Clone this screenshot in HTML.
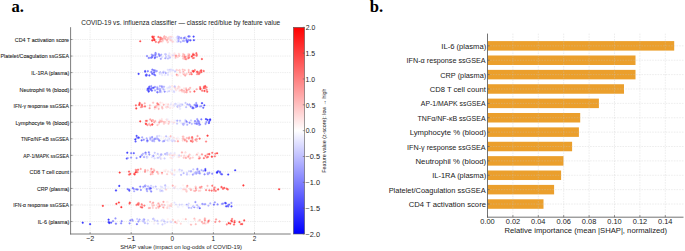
<!DOCTYPE html>
<html><head><meta charset="utf-8"><style>
html,body{margin:0;padding:0;background:#fff;}
svg{display:block;font-family:"Liberation Sans",sans-serif;}
</style></head><body>
<svg width="685" height="251" viewBox="0 0 685 251">
<rect width="685" height="251" fill="#fff"/>
<line x1="90.10" y1="27.20" x2="90.10" y2="234.00" stroke="#e0e0e0" stroke-width="0.6" stroke-dasharray="1.4 0.9"/>
<line x1="131.20" y1="27.20" x2="131.20" y2="234.00" stroke="#e0e0e0" stroke-width="0.6" stroke-dasharray="1.4 0.9"/>
<line x1="172.30" y1="27.20" x2="172.30" y2="234.00" stroke="#e0e0e0" stroke-width="0.6" stroke-dasharray="1.4 0.9"/>
<line x1="213.40" y1="27.20" x2="213.40" y2="234.00" stroke="#e0e0e0" stroke-width="0.6" stroke-dasharray="1.4 0.9"/>
<line x1="254.50" y1="27.20" x2="254.50" y2="234.00" stroke="#e0e0e0" stroke-width="0.6" stroke-dasharray="1.4 0.9"/>
<line x1="70.60" y1="39.50" x2="290.70" y2="39.50" stroke="#e0e0e0" stroke-width="0.6" stroke-dasharray="1.4 0.9"/>
<line x1="70.60" y1="56.05" x2="290.70" y2="56.05" stroke="#e0e0e0" stroke-width="0.6" stroke-dasharray="1.4 0.9"/>
<line x1="70.60" y1="72.60" x2="290.70" y2="72.60" stroke="#e0e0e0" stroke-width="0.6" stroke-dasharray="1.4 0.9"/>
<line x1="70.60" y1="89.15" x2="290.70" y2="89.15" stroke="#e0e0e0" stroke-width="0.6" stroke-dasharray="1.4 0.9"/>
<line x1="70.60" y1="105.70" x2="290.70" y2="105.70" stroke="#e0e0e0" stroke-width="0.6" stroke-dasharray="1.4 0.9"/>
<line x1="70.60" y1="122.25" x2="290.70" y2="122.25" stroke="#e0e0e0" stroke-width="0.6" stroke-dasharray="1.4 0.9"/>
<line x1="70.60" y1="138.80" x2="290.70" y2="138.80" stroke="#e0e0e0" stroke-width="0.6" stroke-dasharray="1.4 0.9"/>
<line x1="70.60" y1="155.35" x2="290.70" y2="155.35" stroke="#e0e0e0" stroke-width="0.6" stroke-dasharray="1.4 0.9"/>
<line x1="70.60" y1="171.90" x2="290.70" y2="171.90" stroke="#e0e0e0" stroke-width="0.6" stroke-dasharray="1.4 0.9"/>
<line x1="70.60" y1="188.45" x2="290.70" y2="188.45" stroke="#e0e0e0" stroke-width="0.6" stroke-dasharray="1.4 0.9"/>
<line x1="70.60" y1="205.00" x2="290.70" y2="205.00" stroke="#e0e0e0" stroke-width="0.6" stroke-dasharray="1.4 0.9"/>
<line x1="70.60" y1="221.55" x2="290.70" y2="221.55" stroke="#e0e0e0" stroke-width="0.6" stroke-dasharray="1.4 0.9"/>
<g fill-opacity="0.72" stroke-opacity="0.72" stroke-width="0.35">
<circle cx="187.07" cy="56.59" r="0.85" fill="rgb(255,174,174)" stroke="rgb(255,174,174)"/>
<circle cx="178.73" cy="71.52" r="0.85" fill="rgb(255,248,248)" stroke="rgb(255,248,248)"/>
<circle cx="178.87" cy="53.73" r="0.85" fill="rgb(255,203,203)" stroke="rgb(255,203,203)"/>
<circle cx="136.73" cy="171.99" r="0.85" fill="rgb(255,55,55)" stroke="rgb(255,55,55)"/>
<circle cx="153.20" cy="55.24" r="0.85" fill="rgb(138,138,255)" stroke="rgb(138,138,255)"/>
<circle cx="184.30" cy="54.81" r="0.85" fill="rgb(255,155,155)" stroke="rgb(255,155,155)"/>
<circle cx="154.74" cy="152.78" r="0.85" fill="rgb(178,178,255)" stroke="rgb(178,178,255)"/>
<circle cx="171.63" cy="70.40" r="0.85" fill="rgb(235,235,255)" stroke="rgb(235,235,255)"/>
<circle cx="157.27" cy="86.98" r="0.85" fill="rgb(174,174,255)" stroke="rgb(174,174,255)"/>
<circle cx="179.54" cy="140.41" r="0.85" fill="rgb(253,253,255)" stroke="rgb(253,253,255)"/>
<circle cx="173.55" cy="223.01" r="0.85" fill="rgb(235,235,255)" stroke="rgb(235,235,255)"/>
<circle cx="146.52" cy="189.83" r="0.85" fill="rgb(171,171,255)" stroke="rgb(171,171,255)"/>
<circle cx="152.31" cy="40.39" r="0.85" fill="rgb(255,0,0)" stroke="rgb(255,0,0)"/>
<circle cx="169.57" cy="107.28" r="0.85" fill="rgb(255,222,222)" stroke="rgb(255,222,222)"/>
<circle cx="170.36" cy="70.90" r="0.85" fill="rgb(217,217,255)" stroke="rgb(217,217,255)"/>
<circle cx="178.73" cy="170.34" r="0.85" fill="rgb(235,235,255)" stroke="rgb(235,235,255)"/>
<circle cx="208.40" cy="205.61" r="0.85" fill="rgb(159,159,255)" stroke="rgb(159,159,255)"/>
<circle cx="235.18" cy="170.26" r="0.85" fill="rgb(0,0,255)" stroke="rgb(0,0,255)"/>
<circle cx="179.95" cy="90.26" r="0.85" fill="rgb(255,174,174)" stroke="rgb(255,174,174)"/>
<circle cx="119.28" cy="185.88" r="0.85" fill="rgb(0,0,255)" stroke="rgb(0,0,255)"/>
<circle cx="162.13" cy="41.40" r="0.85" fill="rgb(255,144,144)" stroke="rgb(255,144,144)"/>
<circle cx="194.39" cy="218.58" r="0.85" fill="rgb(255,172,172)" stroke="rgb(255,172,172)"/>
<circle cx="175.18" cy="120.24" r="0.85" fill="rgb(243,243,255)" stroke="rgb(243,243,255)"/>
<circle cx="169.79" cy="57.65" r="0.85" fill="rgb(206,206,255)" stroke="rgb(206,206,255)"/>
<circle cx="199.96" cy="106.49" r="0.85" fill="rgb(140,140,255)" stroke="rgb(140,140,255)"/>
<circle cx="108.59" cy="219.67" r="0.85" fill="rgb(12,12,255)" stroke="rgb(12,12,255)"/>
<circle cx="169.21" cy="121.73" r="0.85" fill="rgb(255,133,133)" stroke="rgb(255,133,133)"/>
<circle cx="162.90" cy="120.06" r="0.85" fill="rgb(254,254,255)" stroke="rgb(254,254,255)"/>
<circle cx="200.33" cy="190.65" r="0.85" fill="rgb(255,206,206)" stroke="rgb(255,206,206)"/>
<circle cx="157.43" cy="220.83" r="0.85" fill="rgb(177,177,255)" stroke="rgb(177,177,255)"/>
<circle cx="185.05" cy="37.52" r="0.85" fill="rgb(139,139,255)" stroke="rgb(139,139,255)"/>
<circle cx="161.27" cy="136.53" r="0.85" fill="rgb(238,238,255)" stroke="rgb(238,238,255)"/>
<circle cx="185.24" cy="75.43" r="0.85" fill="rgb(255,124,124)" stroke="rgb(255,124,124)"/>
<circle cx="166.71" cy="40.47" r="0.85" fill="rgb(255,176,176)" stroke="rgb(255,176,176)"/>
<circle cx="108.84" cy="222.24" r="0.85" fill="rgb(42,42,255)" stroke="rgb(42,42,255)"/>
<circle cx="144.90" cy="223.01" r="0.85" fill="rgb(157,157,255)" stroke="rgb(157,157,255)"/>
<circle cx="188.89" cy="89.47" r="0.85" fill="rgb(255,140,140)" stroke="rgb(255,140,140)"/>
<circle cx="159.60" cy="140.49" r="0.85" fill="rgb(152,152,255)" stroke="rgb(152,152,255)"/>
<circle cx="132.80" cy="188.07" r="0.85" fill="rgb(68,68,255)" stroke="rgb(68,68,255)"/>
<circle cx="178.15" cy="103.06" r="0.85" fill="rgb(237,237,255)" stroke="rgb(237,237,255)"/>
<circle cx="161.25" cy="54.70" r="0.85" fill="rgb(152,152,255)" stroke="rgb(152,152,255)"/>
<circle cx="163.90" cy="137.33" r="0.85" fill="rgb(255,237,237)" stroke="rgb(255,237,237)"/>
<circle cx="193.24" cy="206.29" r="0.85" fill="rgb(147,147,255)" stroke="rgb(147,147,255)"/>
<circle cx="190.97" cy="120.47" r="0.85" fill="rgb(187,187,255)" stroke="rgb(187,187,255)"/>
<circle cx="188.48" cy="36.47" r="0.85" fill="rgb(57,57,255)" stroke="rgb(57,57,255)"/>
<circle cx="191.05" cy="72.65" r="0.85" fill="rgb(255,113,113)" stroke="rgb(255,113,113)"/>
<circle cx="207.71" cy="174.03" r="0.85" fill="rgb(129,129,255)" stroke="rgb(129,129,255)"/>
<circle cx="230.28" cy="223.55" r="0.85" fill="rgb(255,34,34)" stroke="rgb(255,34,34)"/>
<circle cx="152.64" cy="37.13" r="0.85" fill="rgb(255,0,0)" stroke="rgb(255,0,0)"/>
<circle cx="184.28" cy="155.63" r="0.85" fill="rgb(255,199,199)" stroke="rgb(255,199,199)"/>
<circle cx="174.59" cy="53.76" r="0.85" fill="rgb(255,241,241)" stroke="rgb(255,241,241)"/>
<circle cx="127.29" cy="152.71" r="0.85" fill="rgb(15,15,255)" stroke="rgb(15,15,255)"/>
<circle cx="206.36" cy="121.98" r="0.85" fill="rgb(104,104,255)" stroke="rgb(104,104,255)"/>
<circle cx="182.79" cy="56.34" r="0.85" fill="rgb(255,148,148)" stroke="rgb(255,148,148)"/>
<circle cx="158.55" cy="206.80" r="0.85" fill="rgb(255,159,159)" stroke="rgb(255,159,159)"/>
<circle cx="194.81" cy="123.33" r="0.85" fill="rgb(137,137,255)" stroke="rgb(137,137,255)"/>
<circle cx="184.77" cy="140.32" r="0.85" fill="rgb(255,142,142)" stroke="rgb(255,142,142)"/>
<circle cx="164.14" cy="107.74" r="0.85" fill="rgb(255,254,254)" stroke="rgb(255,254,254)"/>
<circle cx="169.51" cy="106.94" r="0.85" fill="rgb(204,204,255)" stroke="rgb(204,204,255)"/>
<circle cx="173.55" cy="38.71" r="0.85" fill="rgb(255,253,253)" stroke="rgb(255,253,253)"/>
<circle cx="214.17" cy="189.68" r="0.85" fill="rgb(255,62,62)" stroke="rgb(255,62,62)"/>
<circle cx="183.86" cy="138.37" r="0.85" fill="rgb(255,222,222)" stroke="rgb(255,222,222)"/>
<circle cx="198.89" cy="121.51" r="0.85" fill="rgb(111,111,255)" stroke="rgb(111,111,255)"/>
<circle cx="174.64" cy="170.12" r="0.85" fill="rgb(255,210,210)" stroke="rgb(255,210,210)"/>
<circle cx="147.44" cy="89.98" r="0.85" fill="rgb(62,62,255)" stroke="rgb(62,62,255)"/>
<circle cx="188.68" cy="69.99" r="0.85" fill="rgb(255,160,160)" stroke="rgb(255,160,160)"/>
<circle cx="183.22" cy="72.00" r="0.85" fill="rgb(255,110,110)" stroke="rgb(255,110,110)"/>
<circle cx="146.57" cy="74.57" r="0.85" fill="rgb(86,86,255)" stroke="rgb(86,86,255)"/>
<circle cx="180.04" cy="108.80" r="0.85" fill="rgb(221,221,255)" stroke="rgb(221,221,255)"/>
<circle cx="153.05" cy="218.97" r="0.85" fill="rgb(179,179,255)" stroke="rgb(179,179,255)"/>
<circle cx="176.80" cy="223.19" r="0.85" fill="rgb(255,207,207)" stroke="rgb(255,207,207)"/>
<circle cx="193.96" cy="54.72" r="0.85" fill="rgb(255,66,66)" stroke="rgb(255,66,66)"/>
<circle cx="181.09" cy="174.85" r="0.85" fill="rgb(163,163,255)" stroke="rgb(163,163,255)"/>
<circle cx="168.36" cy="137.26" r="0.85" fill="rgb(233,233,255)" stroke="rgb(233,233,255)"/>
<circle cx="137.61" cy="189.48" r="0.85" fill="rgb(86,86,255)" stroke="rgb(86,86,255)"/>
<circle cx="174.51" cy="174.75" r="0.85" fill="rgb(223,223,255)" stroke="rgb(223,223,255)"/>
<circle cx="138.39" cy="137.50" r="0.85" fill="rgb(48,48,255)" stroke="rgb(48,48,255)"/>
<circle cx="188.18" cy="156.61" r="0.85" fill="rgb(255,107,107)" stroke="rgb(255,107,107)"/>
<circle cx="190.90" cy="189.79" r="0.85" fill="rgb(255,135,135)" stroke="rgb(255,135,135)"/>
<circle cx="232.07" cy="218.94" r="0.85" fill="rgb(255,78,78)" stroke="rgb(255,78,78)"/>
<circle cx="115.46" cy="218.39" r="0.85" fill="rgb(117,117,255)" stroke="rgb(117,117,255)"/>
<circle cx="204.53" cy="174.33" r="0.85" fill="rgb(106,106,255)" stroke="rgb(106,106,255)"/>
<circle cx="141.75" cy="105.90" r="0.85" fill="rgb(255,104,104)" stroke="rgb(255,104,104)"/>
<circle cx="111.16" cy="222.54" r="0.85" fill="rgb(45,45,255)" stroke="rgb(45,45,255)"/>
<circle cx="163.87" cy="207.63" r="0.85" fill="rgb(255,188,188)" stroke="rgb(255,188,188)"/>
<circle cx="164.52" cy="158.46" r="0.85" fill="rgb(192,192,255)" stroke="rgb(192,192,255)"/>
<circle cx="139.67" cy="102.89" r="0.85" fill="rgb(255,64,64)" stroke="rgb(255,64,64)"/>
<circle cx="177.93" cy="41.40" r="0.85" fill="rgb(193,193,255)" stroke="rgb(193,193,255)"/>
<circle cx="172.98" cy="124.24" r="0.85" fill="rgb(255,244,244)" stroke="rgb(255,244,244)"/>
<circle cx="140.24" cy="41.27" r="0.85" fill="rgb(255,26,26)" stroke="rgb(255,26,26)"/>
<circle cx="190.47" cy="40.31" r="0.85" fill="rgb(42,42,255)" stroke="rgb(42,42,255)"/>
<circle cx="188.30" cy="220.87" r="0.85" fill="rgb(248,248,255)" stroke="rgb(248,248,255)"/>
<circle cx="164.07" cy="86.83" r="0.85" fill="rgb(232,232,255)" stroke="rgb(232,232,255)"/>
<circle cx="169.05" cy="87.59" r="0.85" fill="rgb(206,206,255)" stroke="rgb(206,206,255)"/>
<circle cx="205.46" cy="155.84" r="0.85" fill="rgb(255,72,72)" stroke="rgb(255,72,72)"/>
<circle cx="179.58" cy="103.91" r="0.85" fill="rgb(221,221,255)" stroke="rgb(221,221,255)"/>
<circle cx="163.45" cy="201.87" r="0.85" fill="rgb(255,135,135)" stroke="rgb(255,135,135)"/>
<circle cx="167.37" cy="87.90" r="0.85" fill="rgb(228,228,255)" stroke="rgb(228,228,255)"/>
<circle cx="205.25" cy="86.14" r="0.85" fill="rgb(255,32,32)" stroke="rgb(255,32,32)"/>
<circle cx="168.51" cy="187.29" r="0.85" fill="rgb(241,241,255)" stroke="rgb(241,241,255)"/>
<circle cx="167.26" cy="120.34" r="0.85" fill="rgb(255,214,214)" stroke="rgb(255,214,214)"/>
<circle cx="159.68" cy="206.12" r="0.85" fill="rgb(255,94,94)" stroke="rgb(255,94,94)"/>
<circle cx="186.68" cy="204.81" r="0.85" fill="rgb(136,136,255)" stroke="rgb(136,136,255)"/>
<circle cx="179.57" cy="106.49" r="0.85" fill="rgb(177,177,255)" stroke="rgb(177,177,255)"/>
<circle cx="138.40" cy="221.45" r="0.85" fill="rgb(130,130,255)" stroke="rgb(130,130,255)"/>
<circle cx="174.20" cy="155.39" r="0.85" fill="rgb(211,211,255)" stroke="rgb(211,211,255)"/>
<circle cx="155.58" cy="154.05" r="0.85" fill="rgb(241,241,255)" stroke="rgb(241,241,255)"/>
<circle cx="165.13" cy="153.94" r="0.85" fill="rgb(157,157,255)" stroke="rgb(157,157,255)"/>
<circle cx="162.23" cy="187.31" r="0.85" fill="rgb(219,219,255)" stroke="rgb(219,219,255)"/>
<circle cx="164.98" cy="75.11" r="0.85" fill="rgb(225,225,255)" stroke="rgb(225,225,255)"/>
<circle cx="163.94" cy="123.67" r="0.85" fill="rgb(255,186,186)" stroke="rgb(255,186,186)"/>
<circle cx="225.90" cy="203.32" r="0.85" fill="rgb(51,51,255)" stroke="rgb(51,51,255)"/>
<circle cx="203.31" cy="107.68" r="0.85" fill="rgb(72,72,255)" stroke="rgb(72,72,255)"/>
<circle cx="148.50" cy="88.93" r="0.85" fill="rgb(120,120,255)" stroke="rgb(120,120,255)"/>
<circle cx="149.93" cy="207.94" r="0.85" fill="rgb(255,153,153)" stroke="rgb(255,153,153)"/>
<circle cx="178.84" cy="36.95" r="0.85" fill="rgb(191,191,255)" stroke="rgb(191,191,255)"/>
<circle cx="170.81" cy="88.05" r="0.85" fill="rgb(241,241,255)" stroke="rgb(241,241,255)"/>
<circle cx="145.75" cy="123.62" r="0.85" fill="rgb(255,66,66)" stroke="rgb(255,66,66)"/>
<circle cx="197.39" cy="169.81" r="0.85" fill="rgb(172,172,255)" stroke="rgb(172,172,255)"/>
<circle cx="178.22" cy="107.56" r="0.85" fill="rgb(249,249,255)" stroke="rgb(249,249,255)"/>
<circle cx="178.32" cy="220.31" r="0.85" fill="rgb(255,234,234)" stroke="rgb(255,234,234)"/>
<circle cx="186.68" cy="156.01" r="0.85" fill="rgb(255,239,239)" stroke="rgb(255,239,239)"/>
<circle cx="162.83" cy="122.49" r="0.85" fill="rgb(255,254,254)" stroke="rgb(255,254,254)"/>
<circle cx="217.57" cy="204.38" r="0.85" fill="rgb(107,107,255)" stroke="rgb(107,107,255)"/>
<circle cx="147.68" cy="140.85" r="0.85" fill="rgb(146,146,255)" stroke="rgb(146,146,255)"/>
<circle cx="199.23" cy="156.60" r="0.85" fill="rgb(255,190,190)" stroke="rgb(255,190,190)"/>
<circle cx="164.36" cy="221.33" r="0.85" fill="rgb(176,176,255)" stroke="rgb(176,176,255)"/>
<circle cx="193.60" cy="36.55" r="0.85" fill="rgb(22,22,255)" stroke="rgb(22,22,255)"/>
<circle cx="164.56" cy="207.66" r="0.85" fill="rgb(255,251,251)" stroke="rgb(255,251,251)"/>
<circle cx="173.90" cy="174.69" r="0.85" fill="rgb(227,227,255)" stroke="rgb(227,227,255)"/>
<circle cx="176.06" cy="204.28" r="0.85" fill="rgb(202,202,255)" stroke="rgb(202,202,255)"/>
<circle cx="174.63" cy="40.51" r="0.85" fill="rgb(225,225,255)" stroke="rgb(225,225,255)"/>
<circle cx="194.44" cy="91.43" r="0.85" fill="rgb(255,44,44)" stroke="rgb(255,44,44)"/>
<circle cx="151.72" cy="54.66" r="0.85" fill="rgb(132,132,255)" stroke="rgb(132,132,255)"/>
<circle cx="173.78" cy="91.14" r="0.85" fill="rgb(214,214,255)" stroke="rgb(214,214,255)"/>
<circle cx="169.15" cy="56.93" r="0.85" fill="rgb(216,216,255)" stroke="rgb(216,216,255)"/>
<circle cx="186.86" cy="90.56" r="0.85" fill="rgb(255,125,125)" stroke="rgb(255,125,125)"/>
<circle cx="172.20" cy="41.96" r="0.85" fill="rgb(245,245,255)" stroke="rgb(245,245,255)"/>
<circle cx="145.04" cy="153.24" r="0.85" fill="rgb(200,200,255)" stroke="rgb(200,200,255)"/>
<circle cx="197.86" cy="73.01" r="0.85" fill="rgb(255,96,96)" stroke="rgb(255,96,96)"/>
<circle cx="178.11" cy="206.82" r="0.85" fill="rgb(227,227,255)" stroke="rgb(227,227,255)"/>
<circle cx="160.80" cy="58.76" r="0.85" fill="rgb(128,128,255)" stroke="rgb(128,128,255)"/>
<circle cx="154.08" cy="223.75" r="0.85" fill="rgb(234,234,255)" stroke="rgb(234,234,255)"/>
<circle cx="150.20" cy="139.42" r="0.85" fill="rgb(198,198,255)" stroke="rgb(198,198,255)"/>
<circle cx="224.32" cy="187.95" r="0.85" fill="rgb(255,43,43)" stroke="rgb(255,43,43)"/>
<circle cx="162.10" cy="107.07" r="0.85" fill="rgb(255,162,162)" stroke="rgb(255,162,162)"/>
<circle cx="201.51" cy="170.12" r="0.85" fill="rgb(149,149,255)" stroke="rgb(149,149,255)"/>
<circle cx="189.61" cy="36.43" r="0.85" fill="rgb(101,101,255)" stroke="rgb(101,101,255)"/>
<circle cx="140.66" cy="206.90" r="0.85" fill="rgb(255,102,102)" stroke="rgb(255,102,102)"/>
<circle cx="140.69" cy="168.90" r="0.85" fill="rgb(255,138,138)" stroke="rgb(255,138,138)"/>
<circle cx="192.34" cy="137.54" r="0.85" fill="rgb(255,170,170)" stroke="rgb(255,170,170)"/>
<circle cx="148.07" cy="220.19" r="0.85" fill="rgb(204,204,255)" stroke="rgb(204,204,255)"/>
<circle cx="182.99" cy="140.50" r="0.85" fill="rgb(255,246,246)" stroke="rgb(255,246,246)"/>
<circle cx="177.83" cy="221.08" r="0.85" fill="rgb(255,237,237)" stroke="rgb(255,237,237)"/>
<circle cx="201.24" cy="106.10" r="0.85" fill="rgb(123,123,255)" stroke="rgb(123,123,255)"/>
<circle cx="163.28" cy="207.15" r="0.85" fill="rgb(255,146,146)" stroke="rgb(255,146,146)"/>
<circle cx="222.94" cy="203.57" r="0.85" fill="rgb(98,98,255)" stroke="rgb(98,98,255)"/>
<circle cx="183.65" cy="74.23" r="0.85" fill="rgb(255,194,194)" stroke="rgb(255,194,194)"/>
<circle cx="168.21" cy="72.30" r="0.85" fill="rgb(209,209,255)" stroke="rgb(209,209,255)"/>
<circle cx="186.97" cy="174.41" r="0.85" fill="rgb(156,156,255)" stroke="rgb(156,156,255)"/>
<circle cx="167.05" cy="152.95" r="0.85" fill="rgb(173,173,255)" stroke="rgb(173,173,255)"/>
<circle cx="206.87" cy="157.47" r="0.85" fill="rgb(255,100,100)" stroke="rgb(255,100,100)"/>
<circle cx="149.13" cy="124.01" r="0.85" fill="rgb(255,148,148)" stroke="rgb(255,148,148)"/>
<circle cx="180.14" cy="72.42" r="0.85" fill="rgb(255,177,177)" stroke="rgb(255,177,177)"/>
<circle cx="154.13" cy="74.40" r="0.85" fill="rgb(56,56,255)" stroke="rgb(56,56,255)"/>
<circle cx="141.79" cy="155.26" r="0.85" fill="rgb(125,125,255)" stroke="rgb(125,125,255)"/>
<circle cx="168.02" cy="75.20" r="0.85" fill="rgb(230,230,255)" stroke="rgb(230,230,255)"/>
<circle cx="171.70" cy="40.51" r="0.85" fill="rgb(224,224,255)" stroke="rgb(224,224,255)"/>
<circle cx="159.91" cy="41.21" r="0.85" fill="rgb(255,82,82)" stroke="rgb(255,82,82)"/>
<circle cx="161.51" cy="220.49" r="0.85" fill="rgb(208,208,255)" stroke="rgb(208,208,255)"/>
<circle cx="158.40" cy="206.40" r="0.85" fill="rgb(255,163,163)" stroke="rgb(255,163,163)"/>
<circle cx="171.28" cy="103.40" r="0.85" fill="rgb(225,225,255)" stroke="rgb(225,225,255)"/>
<circle cx="185.14" cy="57.76" r="0.85" fill="rgb(255,192,192)" stroke="rgb(255,192,192)"/>
<circle cx="221.90" cy="203.89" r="0.85" fill="rgb(130,130,255)" stroke="rgb(130,130,255)"/>
<circle cx="191.29" cy="224.23" r="0.85" fill="rgb(255,227,227)" stroke="rgb(255,227,227)"/>
<circle cx="150.90" cy="171.11" r="0.85" fill="rgb(255,190,190)" stroke="rgb(255,190,190)"/>
<circle cx="151.84" cy="203.75" r="0.85" fill="rgb(255,201,201)" stroke="rgb(255,201,201)"/>
<circle cx="193.06" cy="53.72" r="0.85" fill="rgb(255,119,119)" stroke="rgb(255,119,119)"/>
<circle cx="136.25" cy="108.40" r="0.85" fill="rgb(255,16,16)" stroke="rgb(255,16,16)"/>
<circle cx="175.34" cy="155.04" r="0.85" fill="rgb(255,252,252)" stroke="rgb(255,252,252)"/>
<circle cx="171.42" cy="36.80" r="0.85" fill="rgb(255,222,222)" stroke="rgb(255,222,222)"/>
<circle cx="196.59" cy="139.24" r="0.85" fill="rgb(255,138,138)" stroke="rgb(255,138,138)"/>
<circle cx="126.79" cy="158.52" r="0.85" fill="rgb(34,34,255)" stroke="rgb(34,34,255)"/>
<circle cx="141.63" cy="140.35" r="0.85" fill="rgb(57,57,255)" stroke="rgb(57,57,255)"/>
<circle cx="196.83" cy="154.49" r="0.85" fill="rgb(255,157,157)" stroke="rgb(255,157,157)"/>
<circle cx="206.06" cy="190.00" r="0.85" fill="rgb(255,83,83)" stroke="rgb(255,83,83)"/>
<circle cx="228.67" cy="223.05" r="0.85" fill="rgb(255,0,0)" stroke="rgb(255,0,0)"/>
<circle cx="161.75" cy="75.75" r="0.85" fill="rgb(252,252,255)" stroke="rgb(252,252,255)"/>
<circle cx="195.97" cy="105.36" r="0.85" fill="rgb(46,46,255)" stroke="rgb(46,46,255)"/>
<circle cx="143.75" cy="139.71" r="0.85" fill="rgb(110,110,255)" stroke="rgb(110,110,255)"/>
<circle cx="141.72" cy="204.34" r="0.85" fill="rgb(255,85,85)" stroke="rgb(255,85,85)"/>
<circle cx="170.77" cy="172.63" r="0.85" fill="rgb(255,225,225)" stroke="rgb(255,225,225)"/>
<circle cx="159.62" cy="55.34" r="0.85" fill="rgb(142,142,255)" stroke="rgb(142,142,255)"/>
<circle cx="158.22" cy="88.95" r="0.85" fill="rgb(208,208,255)" stroke="rgb(208,208,255)"/>
<circle cx="157.16" cy="136.17" r="0.85" fill="rgb(196,196,255)" stroke="rgb(196,196,255)"/>
<circle cx="218.11" cy="171.14" r="0.85" fill="rgb(59,59,255)" stroke="rgb(59,59,255)"/>
<circle cx="115.93" cy="223.64" r="0.85" fill="rgb(86,86,255)" stroke="rgb(86,86,255)"/>
<circle cx="182.83" cy="40.92" r="0.85" fill="rgb(156,156,255)" stroke="rgb(156,156,255)"/>
<circle cx="193.86" cy="190.64" r="0.85" fill="rgb(255,189,189)" stroke="rgb(255,189,189)"/>
<circle cx="182.96" cy="185.37" r="0.85" fill="rgb(255,239,239)" stroke="rgb(255,239,239)"/>
<circle cx="196.25" cy="103.04" r="0.85" fill="rgb(117,117,255)" stroke="rgb(117,117,255)"/>
<circle cx="192.86" cy="174.59" r="0.85" fill="rgb(126,126,255)" stroke="rgb(126,126,255)"/>
<circle cx="174.95" cy="141.23" r="0.85" fill="rgb(255,185,185)" stroke="rgb(255,185,185)"/>
<circle cx="156.75" cy="105.63" r="0.85" fill="rgb(255,157,157)" stroke="rgb(255,157,157)"/>
<circle cx="207.53" cy="119.87" r="0.85" fill="rgb(0,0,255)" stroke="rgb(0,0,255)"/>
<circle cx="160.24" cy="37.56" r="0.85" fill="rgb(255,48,48)" stroke="rgb(255,48,48)"/>
<circle cx="178.03" cy="155.58" r="0.85" fill="rgb(255,238,238)" stroke="rgb(255,238,238)"/>
<circle cx="170.27" cy="107.76" r="0.85" fill="rgb(255,218,218)" stroke="rgb(255,218,218)"/>
<circle cx="167.87" cy="106.83" r="0.85" fill="rgb(255,174,174)" stroke="rgb(255,174,174)"/>
<circle cx="156.84" cy="189.15" r="0.85" fill="rgb(204,204,255)" stroke="rgb(204,204,255)"/>
<circle cx="171.81" cy="55.98" r="0.85" fill="rgb(255,236,236)" stroke="rgb(255,236,236)"/>
<circle cx="195.04" cy="191.01" r="0.85" fill="rgb(255,159,159)" stroke="rgb(255,159,159)"/>
<circle cx="199.47" cy="72.37" r="0.85" fill="rgb(255,109,109)" stroke="rgb(255,109,109)"/>
<circle cx="139.03" cy="203.34" r="0.85" fill="rgb(255,148,148)" stroke="rgb(255,148,148)"/>
<circle cx="135.31" cy="139.35" r="0.85" fill="rgb(0,0,255)" stroke="rgb(0,0,255)"/>
<circle cx="195.77" cy="188.10" r="0.85" fill="rgb(255,107,107)" stroke="rgb(255,107,107)"/>
<circle cx="197.07" cy="104.97" r="0.85" fill="rgb(118,118,255)" stroke="rgb(118,118,255)"/>
<circle cx="172.87" cy="103.25" r="0.85" fill="rgb(255,244,244)" stroke="rgb(255,244,244)"/>
<circle cx="127.69" cy="189.13" r="0.85" fill="rgb(84,84,255)" stroke="rgb(84,84,255)"/>
<circle cx="161.39" cy="92.10" r="0.85" fill="rgb(204,204,255)" stroke="rgb(204,204,255)"/>
<circle cx="188.61" cy="55.54" r="0.85" fill="rgb(255,101,101)" stroke="rgb(255,101,101)"/>
<circle cx="171.01" cy="40.64" r="0.85" fill="rgb(255,230,230)" stroke="rgb(255,230,230)"/>
<circle cx="209.18" cy="154.03" r="0.85" fill="rgb(255,59,59)" stroke="rgb(255,59,59)"/>
<circle cx="162.27" cy="75.08" r="0.85" fill="rgb(224,224,255)" stroke="rgb(224,224,255)"/>
<circle cx="178.07" cy="220.60" r="0.85" fill="rgb(255,239,239)" stroke="rgb(255,239,239)"/>
<circle cx="171.93" cy="71.79" r="0.85" fill="rgb(255,248,248)" stroke="rgb(255,248,248)"/>
<circle cx="129.35" cy="190.59" r="0.85" fill="rgb(36,36,255)" stroke="rgb(36,36,255)"/>
<circle cx="179.66" cy="88.97" r="0.85" fill="rgb(255,235,235)" stroke="rgb(255,235,235)"/>
<circle cx="178.44" cy="55.56" r="0.85" fill="rgb(255,214,214)" stroke="rgb(255,214,214)"/>
<circle cx="148.78" cy="208.03" r="0.85" fill="rgb(255,160,160)" stroke="rgb(255,160,160)"/>
<circle cx="142.03" cy="105.03" r="0.85" fill="rgb(255,90,90)" stroke="rgb(255,90,90)"/>
<circle cx="182.63" cy="123.75" r="0.85" fill="rgb(169,169,255)" stroke="rgb(169,169,255)"/>
<circle cx="177.06" cy="123.58" r="0.85" fill="rgb(183,183,255)" stroke="rgb(183,183,255)"/>
<circle cx="187.84" cy="205.62" r="0.85" fill="rgb(199,199,255)" stroke="rgb(199,199,255)"/>
<circle cx="202.13" cy="90.63" r="0.85" fill="rgb(255,74,74)" stroke="rgb(255,74,74)"/>
<circle cx="178.70" cy="207.01" r="0.85" fill="rgb(248,248,255)" stroke="rgb(248,248,255)"/>
<circle cx="201.54" cy="186.76" r="0.85" fill="rgb(255,102,102)" stroke="rgb(255,102,102)"/>
<circle cx="168.42" cy="38.02" r="0.85" fill="rgb(255,194,194)" stroke="rgb(255,194,194)"/>
<circle cx="233.99" cy="224.52" r="0.85" fill="rgb(255,43,43)" stroke="rgb(255,43,43)"/>
<circle cx="208.91" cy="123.01" r="0.85" fill="rgb(19,19,255)" stroke="rgb(19,19,255)"/>
<circle cx="155.14" cy="71.39" r="0.85" fill="rgb(162,162,255)" stroke="rgb(162,162,255)"/>
<circle cx="146.17" cy="124.14" r="0.85" fill="rgb(255,51,51)" stroke="rgb(255,51,51)"/>
<circle cx="189.29" cy="172.00" r="0.85" fill="rgb(249,249,255)" stroke="rgb(249,249,255)"/>
<circle cx="185.40" cy="157.10" r="0.85" fill="rgb(255,232,232)" stroke="rgb(255,232,232)"/>
<circle cx="132.75" cy="220.69" r="0.85" fill="rgb(153,153,255)" stroke="rgb(153,153,255)"/>
<circle cx="140.21" cy="186.62" r="0.85" fill="rgb(97,97,255)" stroke="rgb(97,97,255)"/>
<circle cx="157.42" cy="87.85" r="0.85" fill="rgb(144,144,255)" stroke="rgb(144,144,255)"/>
<circle cx="150.45" cy="190.09" r="0.85" fill="rgb(176,176,255)" stroke="rgb(176,176,255)"/>
<circle cx="174.09" cy="42.01" r="0.85" fill="rgb(244,244,255)" stroke="rgb(244,244,255)"/>
<circle cx="172.06" cy="85.99" r="0.85" fill="rgb(255,218,218)" stroke="rgb(255,218,218)"/>
<circle cx="185.93" cy="121.46" r="0.85" fill="rgb(78,78,255)" stroke="rgb(78,78,255)"/>
<circle cx="134.14" cy="173.80" r="0.85" fill="rgb(255,80,80)" stroke="rgb(255,80,80)"/>
<circle cx="177.25" cy="120.63" r="0.85" fill="rgb(150,150,255)" stroke="rgb(150,150,255)"/>
<circle cx="170.11" cy="222.48" r="0.85" fill="rgb(255,239,239)" stroke="rgb(255,239,239)"/>
<circle cx="161.20" cy="121.17" r="0.85" fill="rgb(255,211,211)" stroke="rgb(255,211,211)"/>
<circle cx="177.56" cy="106.74" r="0.85" fill="rgb(185,185,255)" stroke="rgb(185,185,255)"/>
<circle cx="155.53" cy="53.07" r="0.85" fill="rgb(60,60,255)" stroke="rgb(60,60,255)"/>
<circle cx="168.55" cy="140.63" r="0.85" fill="rgb(207,207,255)" stroke="rgb(207,207,255)"/>
<circle cx="171.12" cy="222.07" r="0.85" fill="rgb(199,199,255)" stroke="rgb(199,199,255)"/>
<circle cx="240.89" cy="224.15" r="0.85" fill="rgb(255,71,71)" stroke="rgb(255,71,71)"/>
<circle cx="184.65" cy="57.22" r="0.85" fill="rgb(255,89,89)" stroke="rgb(255,89,89)"/>
<circle cx="184.73" cy="70.22" r="0.85" fill="rgb(255,179,179)" stroke="rgb(255,179,179)"/>
<circle cx="161.82" cy="190.84" r="0.85" fill="rgb(247,247,255)" stroke="rgb(247,247,255)"/>
<circle cx="182.94" cy="72.20" r="0.85" fill="rgb(255,190,190)" stroke="rgb(255,190,190)"/>
<circle cx="150.45" cy="138.07" r="0.85" fill="rgb(102,102,255)" stroke="rgb(102,102,255)"/>
<circle cx="204.72" cy="219.47" r="0.85" fill="rgb(255,169,169)" stroke="rgb(255,169,169)"/>
<circle cx="175.80" cy="91.48" r="0.85" fill="rgb(251,251,255)" stroke="rgb(251,251,255)"/>
<circle cx="148.94" cy="87.93" r="0.85" fill="rgb(87,87,255)" stroke="rgb(87,87,255)"/>
<circle cx="167.31" cy="202.05" r="0.85" fill="rgb(255,214,214)" stroke="rgb(255,214,214)"/>
<circle cx="189.58" cy="104.56" r="0.85" fill="rgb(117,117,255)" stroke="rgb(117,117,255)"/>
<circle cx="157.30" cy="103.28" r="0.85" fill="rgb(255,111,111)" stroke="rgb(255,111,111)"/>
<circle cx="197.26" cy="123.92" r="0.85" fill="rgb(119,119,255)" stroke="rgb(119,119,255)"/>
<circle cx="189.75" cy="74.23" r="0.85" fill="rgb(255,138,138)" stroke="rgb(255,138,138)"/>
<circle cx="226.19" cy="206.31" r="0.85" fill="rgb(23,23,255)" stroke="rgb(23,23,255)"/>
<circle cx="144.73" cy="103.31" r="0.85" fill="rgb(255,150,150)" stroke="rgb(255,150,150)"/>
<circle cx="180.76" cy="188.40" r="0.85" fill="rgb(233,233,255)" stroke="rgb(233,233,255)"/>
<circle cx="142.51" cy="106.71" r="0.85" fill="rgb(255,120,120)" stroke="rgb(255,120,120)"/>
<circle cx="175.46" cy="104.00" r="0.85" fill="rgb(126,126,255)" stroke="rgb(126,126,255)"/>
<circle cx="167.09" cy="174.20" r="0.85" fill="rgb(255,189,189)" stroke="rgb(255,189,189)"/>
<circle cx="167.27" cy="120.89" r="0.85" fill="rgb(255,233,233)" stroke="rgb(255,233,233)"/>
<circle cx="205.35" cy="169.11" r="0.85" fill="rgb(27,27,255)" stroke="rgb(27,27,255)"/>
<circle cx="177.81" cy="141.05" r="0.85" fill="rgb(255,197,197)" stroke="rgb(255,197,197)"/>
<circle cx="172.20" cy="173.93" r="0.85" fill="rgb(255,201,201)" stroke="rgb(255,201,201)"/>
<circle cx="158.69" cy="124.05" r="0.85" fill="rgb(255,220,220)" stroke="rgb(255,220,220)"/>
<circle cx="154.92" cy="123.25" r="0.85" fill="rgb(255,244,244)" stroke="rgb(255,244,244)"/>
<circle cx="223.03" cy="188.85" r="0.85" fill="rgb(255,61,61)" stroke="rgb(255,61,61)"/>
<circle cx="187.23" cy="124.65" r="0.85" fill="rgb(152,152,255)" stroke="rgb(152,152,255)"/>
<circle cx="198.74" cy="220.66" r="0.85" fill="rgb(255,215,215)" stroke="rgb(255,215,215)"/>
<circle cx="162.93" cy="141.39" r="0.85" fill="rgb(161,161,255)" stroke="rgb(161,161,255)"/>
<circle cx="185.44" cy="152.47" r="0.85" fill="rgb(255,196,196)" stroke="rgb(255,196,196)"/>
<circle cx="159.94" cy="89.18" r="0.85" fill="rgb(131,131,255)" stroke="rgb(131,131,255)"/>
<circle cx="164.87" cy="170.98" r="0.85" fill="rgb(255,210,210)" stroke="rgb(255,210,210)"/>
<circle cx="171.05" cy="89.46" r="0.85" fill="rgb(255,229,229)" stroke="rgb(255,229,229)"/>
<circle cx="160.82" cy="155.24" r="0.85" fill="rgb(191,191,255)" stroke="rgb(191,191,255)"/>
<circle cx="145.02" cy="171.72" r="0.85" fill="rgb(255,110,110)" stroke="rgb(255,110,110)"/>
<circle cx="186.03" cy="121.18" r="0.85" fill="rgb(139,139,255)" stroke="rgb(139,139,255)"/>
<circle cx="146.93" cy="75.28" r="0.85" fill="rgb(144,144,255)" stroke="rgb(144,144,255)"/>
<circle cx="169.31" cy="55.26" r="0.85" fill="rgb(219,219,255)" stroke="rgb(219,219,255)"/>
<circle cx="135.57" cy="172.34" r="0.85" fill="rgb(255,0,0)" stroke="rgb(255,0,0)"/>
<circle cx="149.60" cy="187.63" r="0.85" fill="rgb(147,147,255)" stroke="rgb(147,147,255)"/>
<circle cx="156.98" cy="138.57" r="0.85" fill="rgb(117,117,255)" stroke="rgb(117,117,255)"/>
<circle cx="167.22" cy="71.22" r="0.85" fill="rgb(255,255,255)" stroke="rgb(255,255,255)"/>
<circle cx="186.01" cy="219.21" r="0.85" fill="rgb(255,242,242)" stroke="rgb(255,242,242)"/>
<circle cx="166.20" cy="58.40" r="0.85" fill="rgb(246,246,255)" stroke="rgb(246,246,255)"/>
<circle cx="191.68" cy="74.27" r="0.85" fill="rgb(255,81,81)" stroke="rgb(255,81,81)"/>
<circle cx="166.07" cy="106.72" r="0.85" fill="rgb(255,192,192)" stroke="rgb(255,192,192)"/>
<circle cx="169.45" cy="69.83" r="0.85" fill="rgb(232,232,255)" stroke="rgb(232,232,255)"/>
<circle cx="181.61" cy="91.83" r="0.85" fill="rgb(255,236,236)" stroke="rgb(255,236,236)"/>
<circle cx="185.24" cy="37.36" r="0.85" fill="rgb(208,208,255)" stroke="rgb(208,208,255)"/>
<circle cx="196.52" cy="173.32" r="0.85" fill="rgb(134,134,255)" stroke="rgb(134,134,255)"/>
<circle cx="195.42" cy="202.07" r="0.85" fill="rgb(113,113,255)" stroke="rgb(113,113,255)"/>
<circle cx="171.28" cy="55.67" r="0.85" fill="rgb(255,240,240)" stroke="rgb(255,240,240)"/>
<circle cx="147.21" cy="141.46" r="0.85" fill="rgb(156,156,255)" stroke="rgb(156,156,255)"/>
<circle cx="229.06" cy="204.58" r="0.85" fill="rgb(47,47,255)" stroke="rgb(47,47,255)"/>
<circle cx="166.19" cy="58.15" r="0.85" fill="rgb(247,247,255)" stroke="rgb(247,247,255)"/>
<circle cx="161.90" cy="121.48" r="0.85" fill="rgb(255,168,168)" stroke="rgb(255,168,168)"/>
<circle cx="181.15" cy="155.83" r="0.85" fill="rgb(255,200,200)" stroke="rgb(255,200,200)"/>
<circle cx="164.25" cy="37.50" r="0.85" fill="rgb(255,193,193)" stroke="rgb(255,193,193)"/>
<circle cx="144.40" cy="205.61" r="0.85" fill="rgb(255,83,83)" stroke="rgb(255,83,83)"/>
<circle cx="154.24" cy="40.01" r="0.85" fill="rgb(255,11,11)" stroke="rgb(255,11,11)"/>
<circle cx="167.77" cy="42.35" r="0.85" fill="rgb(255,184,184)" stroke="rgb(255,184,184)"/>
<circle cx="199.86" cy="219.94" r="0.85" fill="rgb(255,180,180)" stroke="rgb(255,180,180)"/>
<circle cx="183.63" cy="157.69" r="0.85" fill="rgb(255,182,182)" stroke="rgb(255,182,182)"/>
<circle cx="90.10" cy="224.17" r="0.85" fill="rgb(0,0,255)" stroke="rgb(0,0,255)"/>
<circle cx="192.53" cy="141.47" r="0.85" fill="rgb(255,102,102)" stroke="rgb(255,102,102)"/>
<circle cx="152.71" cy="174.10" r="0.85" fill="rgb(255,185,185)" stroke="rgb(255,185,185)"/>
<circle cx="165.96" cy="169.86" r="0.85" fill="rgb(255,233,233)" stroke="rgb(255,233,233)"/>
<circle cx="166.68" cy="107.61" r="0.85" fill="rgb(255,219,219)" stroke="rgb(255,219,219)"/>
<circle cx="160.36" cy="191.08" r="0.85" fill="rgb(203,203,255)" stroke="rgb(203,203,255)"/>
<circle cx="178.61" cy="103.36" r="0.85" fill="rgb(251,251,255)" stroke="rgb(251,251,255)"/>
<circle cx="226.79" cy="224.40" r="0.85" fill="rgb(255,95,95)" stroke="rgb(255,95,95)"/>
<circle cx="149.00" cy="88.69" r="0.85" fill="rgb(87,87,255)" stroke="rgb(87,87,255)"/>
<circle cx="158.38" cy="36.92" r="0.85" fill="rgb(255,77,77)" stroke="rgb(255,77,77)"/>
<circle cx="157.38" cy="92.09" r="0.85" fill="rgb(103,103,255)" stroke="rgb(103,103,255)"/>
<circle cx="186.32" cy="140.43" r="0.85" fill="rgb(255,194,194)" stroke="rgb(255,194,194)"/>
<circle cx="197.52" cy="136.02" r="0.85" fill="rgb(255,118,118)" stroke="rgb(255,118,118)"/>
<circle cx="150.21" cy="119.44" r="0.85" fill="rgb(255,135,135)" stroke="rgb(255,135,135)"/>
<circle cx="165.43" cy="122.33" r="0.85" fill="rgb(255,175,175)" stroke="rgb(255,175,175)"/>
<circle cx="186.40" cy="38.74" r="0.85" fill="rgb(145,145,255)" stroke="rgb(145,145,255)"/>
<circle cx="140.86" cy="189.90" r="0.85" fill="rgb(105,105,255)" stroke="rgb(105,105,255)"/>
<circle cx="172.73" cy="123.53" r="0.85" fill="rgb(233,233,255)" stroke="rgb(233,233,255)"/>
<circle cx="173.23" cy="55.71" r="0.85" fill="rgb(255,220,220)" stroke="rgb(255,220,220)"/>
<circle cx="209.34" cy="172.81" r="0.85" fill="rgb(121,121,255)" stroke="rgb(121,121,255)"/>
<circle cx="147.47" cy="125.11" r="0.85" fill="rgb(255,114,114)" stroke="rgb(255,114,114)"/>
<circle cx="178.97" cy="157.10" r="0.85" fill="rgb(255,209,209)" stroke="rgb(255,209,209)"/>
<circle cx="214.94" cy="187.41" r="0.85" fill="rgb(255,144,144)" stroke="rgb(255,144,144)"/>
<circle cx="192.61" cy="70.79" r="0.85" fill="rgb(255,80,80)" stroke="rgb(255,80,80)"/>
<circle cx="279.16" cy="189.23" r="0.85" fill="rgb(255,0,0)" stroke="rgb(255,0,0)"/>
<circle cx="152.27" cy="87.97" r="0.85" fill="rgb(112,112,255)" stroke="rgb(112,112,255)"/>
<circle cx="152.49" cy="172.30" r="0.85" fill="rgb(255,116,116)" stroke="rgb(255,116,116)"/>
<circle cx="164.69" cy="91.56" r="0.85" fill="rgb(110,110,255)" stroke="rgb(110,110,255)"/>
<circle cx="143.65" cy="221.48" r="0.85" fill="rgb(173,173,255)" stroke="rgb(173,173,255)"/>
<circle cx="184.29" cy="123.24" r="0.85" fill="rgb(183,183,255)" stroke="rgb(183,183,255)"/>
<circle cx="192.42" cy="141.76" r="0.85" fill="rgb(255,131,131)" stroke="rgb(255,131,131)"/>
<circle cx="181.99" cy="204.51" r="0.85" fill="rgb(207,207,255)" stroke="rgb(207,207,255)"/>
<circle cx="169.90" cy="57.39" r="0.85" fill="rgb(187,187,255)" stroke="rgb(187,187,255)"/>
<circle cx="182.95" cy="55.97" r="0.85" fill="rgb(255,189,189)" stroke="rgb(255,189,189)"/>
<circle cx="183.94" cy="90.75" r="0.85" fill="rgb(255,146,146)" stroke="rgb(255,146,146)"/>
<circle cx="139.25" cy="104.96" r="0.85" fill="rgb(255,34,34)" stroke="rgb(255,34,34)"/>
<circle cx="162.45" cy="206.15" r="0.85" fill="rgb(255,228,228)" stroke="rgb(255,228,228)"/>
<circle cx="170.51" cy="37.50" r="0.85" fill="rgb(223,223,255)" stroke="rgb(223,223,255)"/>
<circle cx="163.88" cy="121.92" r="0.85" fill="rgb(255,165,165)" stroke="rgb(255,165,165)"/>
<circle cx="180.68" cy="75.78" r="0.85" fill="rgb(255,240,240)" stroke="rgb(255,240,240)"/>
<circle cx="183.10" cy="138.78" r="0.85" fill="rgb(255,148,148)" stroke="rgb(255,148,148)"/>
<circle cx="135.88" cy="105.34" r="0.85" fill="rgb(255,60,60)" stroke="rgb(255,60,60)"/>
<circle cx="151.90" cy="90.55" r="0.85" fill="rgb(52,52,255)" stroke="rgb(52,52,255)"/>
<circle cx="188.38" cy="223.11" r="0.85" fill="rgb(248,248,255)" stroke="rgb(248,248,255)"/>
<circle cx="174.20" cy="88.82" r="0.85" fill="rgb(251,251,255)" stroke="rgb(251,251,255)"/>
<circle cx="188.67" cy="72.17" r="0.85" fill="rgb(255,155,155)" stroke="rgb(255,155,155)"/>
<circle cx="146.82" cy="188.79" r="0.85" fill="rgb(104,104,255)" stroke="rgb(104,104,255)"/>
<circle cx="203.75" cy="87.99" r="0.85" fill="rgb(255,17,17)" stroke="rgb(255,17,17)"/>
<circle cx="173.06" cy="104.82" r="0.85" fill="rgb(225,225,255)" stroke="rgb(225,225,255)"/>
<circle cx="188.98" cy="104.93" r="0.85" fill="rgb(177,177,255)" stroke="rgb(177,177,255)"/>
<circle cx="172.12" cy="75.42" r="0.85" fill="rgb(234,234,255)" stroke="rgb(234,234,255)"/>
<circle cx="136.58" cy="158.03" r="0.85" fill="rgb(116,116,255)" stroke="rgb(116,116,255)"/>
<circle cx="173.91" cy="86.89" r="0.85" fill="rgb(255,228,228)" stroke="rgb(255,228,228)"/>
<circle cx="175.54" cy="57.76" r="0.85" fill="rgb(255,170,170)" stroke="rgb(255,170,170)"/>
<circle cx="184.55" cy="56.56" r="0.85" fill="rgb(255,126,126)" stroke="rgb(255,126,126)"/>
<circle cx="197.19" cy="106.19" r="0.85" fill="rgb(47,47,255)" stroke="rgb(47,47,255)"/>
<circle cx="167.49" cy="140.37" r="0.85" fill="rgb(199,199,255)" stroke="rgb(199,199,255)"/>
<circle cx="201.37" cy="71.99" r="0.85" fill="rgb(255,29,29)" stroke="rgb(255,29,29)"/>
<circle cx="168.96" cy="37.14" r="0.85" fill="rgb(255,223,223)" stroke="rgb(255,223,223)"/>
<circle cx="160.02" cy="189.61" r="0.85" fill="rgb(212,212,255)" stroke="rgb(212,212,255)"/>
<circle cx="178.70" cy="36.92" r="0.85" fill="rgb(213,213,255)" stroke="rgb(213,213,255)"/>
<circle cx="191.05" cy="224.60" r="0.85" fill="rgb(255,165,165)" stroke="rgb(255,165,165)"/>
<circle cx="154.17" cy="141.34" r="0.85" fill="rgb(166,166,255)" stroke="rgb(166,166,255)"/>
<circle cx="136.90" cy="224.16" r="0.85" fill="rgb(88,88,255)" stroke="rgb(88,88,255)"/>
<circle cx="231.31" cy="220.57" r="0.85" fill="rgb(255,55,55)" stroke="rgb(255,55,55)"/>
<circle cx="188.92" cy="138.73" r="0.85" fill="rgb(255,198,198)" stroke="rgb(255,198,198)"/>
<circle cx="170.09" cy="39.75" r="0.85" fill="rgb(255,200,200)" stroke="rgb(255,200,200)"/>
<circle cx="198.04" cy="153.10" r="0.85" fill="rgb(255,225,225)" stroke="rgb(255,225,225)"/>
<circle cx="109.37" cy="222.94" r="0.85" fill="rgb(5,5,255)" stroke="rgb(5,5,255)"/>
<circle cx="201.89" cy="59.00" r="0.85" fill="rgb(255,13,13)" stroke="rgb(255,13,13)"/>
<circle cx="171.71" cy="71.18" r="0.85" fill="rgb(237,237,255)" stroke="rgb(237,237,255)"/>
<circle cx="166.18" cy="37.16" r="0.85" fill="rgb(255,179,179)" stroke="rgb(255,179,179)"/>
<circle cx="174.67" cy="54.85" r="0.85" fill="rgb(209,209,255)" stroke="rgb(209,209,255)"/>
<circle cx="190.22" cy="91.74" r="0.85" fill="rgb(255,140,140)" stroke="rgb(255,140,140)"/>
<circle cx="155.17" cy="57.19" r="0.85" fill="rgb(92,92,255)" stroke="rgb(92,92,255)"/>
<circle cx="182.14" cy="72.27" r="0.85" fill="rgb(242,242,255)" stroke="rgb(242,242,255)"/>
<circle cx="176.80" cy="75.39" r="0.85" fill="rgb(255,221,221)" stroke="rgb(255,221,221)"/>
<circle cx="183.23" cy="56.01" r="0.85" fill="rgb(255,192,192)" stroke="rgb(255,192,192)"/>
<circle cx="142.18" cy="137.31" r="0.85" fill="rgb(136,136,255)" stroke="rgb(136,136,255)"/>
<circle cx="184.45" cy="92.32" r="0.85" fill="rgb(255,185,185)" stroke="rgb(255,185,185)"/>
<circle cx="152.65" cy="55.88" r="0.85" fill="rgb(111,111,255)" stroke="rgb(111,111,255)"/>
<circle cx="185.00" cy="57.41" r="0.85" fill="rgb(255,152,152)" stroke="rgb(255,152,152)"/>
<circle cx="185.72" cy="219.19" r="0.85" fill="rgb(255,177,177)" stroke="rgb(255,177,177)"/>
<circle cx="172.96" cy="107.24" r="0.85" fill="rgb(255,212,212)" stroke="rgb(255,212,212)"/>
<circle cx="167.29" cy="189.86" r="0.85" fill="rgb(255,252,252)" stroke="rgb(255,252,252)"/>
<circle cx="130.28" cy="220.34" r="0.85" fill="rgb(109,109,255)" stroke="rgb(109,109,255)"/>
<circle cx="132.17" cy="219.62" r="0.85" fill="rgb(124,124,255)" stroke="rgb(124,124,255)"/>
<circle cx="167.70" cy="202.25" r="0.85" fill="rgb(255,242,242)" stroke="rgb(255,242,242)"/>
<circle cx="171.60" cy="156.65" r="0.85" fill="rgb(251,251,255)" stroke="rgb(251,251,255)"/>
<circle cx="150.76" cy="174.30" r="0.85" fill="rgb(255,140,140)" stroke="rgb(255,140,140)"/>
<circle cx="188.37" cy="58.14" r="0.85" fill="rgb(255,103,103)" stroke="rgb(255,103,103)"/>
<circle cx="199.60" cy="138.61" r="0.85" fill="rgb(255,64,64)" stroke="rgb(255,64,64)"/>
<circle cx="151.01" cy="185.77" r="0.85" fill="rgb(183,183,255)" stroke="rgb(183,183,255)"/>
<circle cx="196.67" cy="141.19" r="0.85" fill="rgb(255,178,178)" stroke="rgb(255,178,178)"/>
<circle cx="204.08" cy="204.30" r="0.85" fill="rgb(150,150,255)" stroke="rgb(150,150,255)"/>
<circle cx="173.61" cy="120.43" r="0.85" fill="rgb(255,243,243)" stroke="rgb(255,243,243)"/>
<circle cx="197.06" cy="74.23" r="0.85" fill="rgb(255,117,117)" stroke="rgb(255,117,117)"/>
<circle cx="166.47" cy="119.49" r="0.85" fill="rgb(255,213,213)" stroke="rgb(255,213,213)"/>
<circle cx="201.96" cy="154.36" r="0.85" fill="rgb(255,110,110)" stroke="rgb(255,110,110)"/>
<circle cx="172.44" cy="140.89" r="0.85" fill="rgb(173,173,255)" stroke="rgb(173,173,255)"/>
<circle cx="194.84" cy="70.06" r="0.85" fill="rgb(255,83,83)" stroke="rgb(255,83,83)"/>
<circle cx="186.12" cy="107.15" r="0.85" fill="rgb(171,171,255)" stroke="rgb(171,171,255)"/>
<circle cx="137.60" cy="172.22" r="0.85" fill="rgb(255,132,132)" stroke="rgb(255,132,132)"/>
<circle cx="189.87" cy="158.48" r="0.85" fill="rgb(255,161,161)" stroke="rgb(255,161,161)"/>
<circle cx="179.31" cy="105.67" r="0.85" fill="rgb(197,197,255)" stroke="rgb(197,197,255)"/>
<circle cx="160.83" cy="158.51" r="0.85" fill="rgb(160,160,255)" stroke="rgb(160,160,255)"/>
<circle cx="146.86" cy="156.75" r="0.85" fill="rgb(151,151,255)" stroke="rgb(151,151,255)"/>
<circle cx="148.00" cy="186.28" r="0.85" fill="rgb(157,157,255)" stroke="rgb(157,157,255)"/>
<circle cx="166.60" cy="55.11" r="0.85" fill="rgb(251,251,255)" stroke="rgb(251,251,255)"/>
<circle cx="146.93" cy="157.66" r="0.85" fill="rgb(198,198,255)" stroke="rgb(198,198,255)"/>
<circle cx="160.23" cy="90.13" r="0.85" fill="rgb(176,176,255)" stroke="rgb(176,176,255)"/>
<circle cx="164.37" cy="36.43" r="0.85" fill="rgb(255,138,138)" stroke="rgb(255,138,138)"/>
<circle cx="203.87" cy="158.17" r="0.85" fill="rgb(255,76,76)" stroke="rgb(255,76,76)"/>
<circle cx="164.34" cy="205.21" r="0.85" fill="rgb(255,166,166)" stroke="rgb(255,166,166)"/>
<circle cx="231.97" cy="221.46" r="0.85" fill="rgb(255,42,42)" stroke="rgb(255,42,42)"/>
<circle cx="149.84" cy="137.42" r="0.85" fill="rgb(214,214,255)" stroke="rgb(214,214,255)"/>
<circle cx="196.67" cy="106.58" r="0.85" fill="rgb(96,96,255)" stroke="rgb(96,96,255)"/>
<circle cx="215.31" cy="221.89" r="0.85" fill="rgb(255,112,112)" stroke="rgb(255,112,112)"/>
<circle cx="121.12" cy="223.29" r="0.85" fill="rgb(100,100,255)" stroke="rgb(100,100,255)"/>
<circle cx="174.07" cy="203.76" r="0.85" fill="rgb(249,249,255)" stroke="rgb(249,249,255)"/>
<circle cx="185.55" cy="189.60" r="0.85" fill="rgb(255,180,180)" stroke="rgb(255,180,180)"/>
<circle cx="142.44" cy="221.00" r="0.85" fill="rgb(194,194,255)" stroke="rgb(194,194,255)"/>
<circle cx="162.00" cy="190.63" r="0.85" fill="rgb(164,164,255)" stroke="rgb(164,164,255)"/>
<circle cx="155.18" cy="138.23" r="0.85" fill="rgb(200,200,255)" stroke="rgb(200,200,255)"/>
<circle cx="184.00" cy="88.30" r="0.85" fill="rgb(255,219,219)" stroke="rgb(255,219,219)"/>
<circle cx="173.69" cy="106.21" r="0.85" fill="rgb(205,205,255)" stroke="rgb(205,205,255)"/>
<circle cx="216.06" cy="219.42" r="0.85" fill="rgb(255,122,122)" stroke="rgb(255,122,122)"/>
<circle cx="171.75" cy="90.71" r="0.85" fill="rgb(234,234,255)" stroke="rgb(234,234,255)"/>
<circle cx="172.64" cy="37.33" r="0.85" fill="rgb(255,221,221)" stroke="rgb(255,221,221)"/>
<circle cx="159.42" cy="89.60" r="0.85" fill="rgb(166,166,255)" stroke="rgb(166,166,255)"/>
<circle cx="193.50" cy="71.47" r="0.85" fill="rgb(255,73,73)" stroke="rgb(255,73,73)"/>
<circle cx="210.11" cy="120.15" r="0.85" fill="rgb(71,71,255)" stroke="rgb(71,71,255)"/>
<circle cx="192.47" cy="140.16" r="0.85" fill="rgb(255,160,160)" stroke="rgb(255,160,160)"/>
<circle cx="137.67" cy="204.22" r="0.85" fill="rgb(255,81,81)" stroke="rgb(255,81,81)"/>
<circle cx="205.12" cy="87.88" r="0.85" fill="rgb(255,75,75)" stroke="rgb(255,75,75)"/>
<circle cx="198.91" cy="74.11" r="0.85" fill="rgb(255,78,78)" stroke="rgb(255,78,78)"/>
<circle cx="215.76" cy="190.81" r="0.85" fill="rgb(255,76,76)" stroke="rgb(255,76,76)"/>
<circle cx="127.78" cy="158.06" r="0.85" fill="rgb(133,133,255)" stroke="rgb(133,133,255)"/>
<circle cx="171.76" cy="121.65" r="0.85" fill="rgb(255,229,229)" stroke="rgb(255,229,229)"/>
<circle cx="169.48" cy="208.16" r="0.85" fill="rgb(231,231,255)" stroke="rgb(231,231,255)"/>
<circle cx="174.08" cy="58.36" r="0.85" fill="rgb(244,244,255)" stroke="rgb(244,244,255)"/>
<circle cx="202.95" cy="223.44" r="0.85" fill="rgb(255,175,175)" stroke="rgb(255,175,175)"/>
<circle cx="207.93" cy="156.84" r="0.85" fill="rgb(255,72,72)" stroke="rgb(255,72,72)"/>
<circle cx="191.32" cy="207.90" r="0.85" fill="rgb(175,175,255)" stroke="rgb(175,175,255)"/>
<circle cx="205.97" cy="119.09" r="0.85" fill="rgb(0,0,255)" stroke="rgb(0,0,255)"/>
<circle cx="168.52" cy="123.67" r="0.85" fill="rgb(255,184,184)" stroke="rgb(255,184,184)"/>
<circle cx="177.41" cy="56.97" r="0.85" fill="rgb(255,205,205)" stroke="rgb(255,205,205)"/>
<circle cx="140.24" cy="121.34" r="0.85" fill="rgb(255,9,9)" stroke="rgb(255,9,9)"/>
<circle cx="184.62" cy="41.18" r="0.85" fill="rgb(203,203,255)" stroke="rgb(203,203,255)"/>
<circle cx="172.71" cy="185.61" r="0.85" fill="rgb(255,154,154)" stroke="rgb(255,154,154)"/>
<circle cx="153.13" cy="102.64" r="0.85" fill="rgb(255,175,175)" stroke="rgb(255,175,175)"/>
<circle cx="152.24" cy="124.52" r="0.85" fill="rgb(255,50,50)" stroke="rgb(255,50,50)"/>
<circle cx="153.80" cy="205.34" r="0.85" fill="rgb(255,170,170)" stroke="rgb(255,170,170)"/>
<circle cx="136.60" cy="135.92" r="0.85" fill="rgb(25,25,255)" stroke="rgb(25,25,255)"/>
<circle cx="145.59" cy="152.56" r="0.85" fill="rgb(88,88,255)" stroke="rgb(88,88,255)"/>
<circle cx="156.53" cy="107.56" r="0.85" fill="rgb(255,174,174)" stroke="rgb(255,174,174)"/>
<circle cx="177.58" cy="106.39" r="0.85" fill="rgb(170,170,255)" stroke="rgb(170,170,255)"/>
<circle cx="150.51" cy="139.45" r="0.85" fill="rgb(170,170,255)" stroke="rgb(170,170,255)"/>
<circle cx="163.39" cy="72.44" r="0.85" fill="rgb(123,123,255)" stroke="rgb(123,123,255)"/>
<circle cx="239.46" cy="221.98" r="0.85" fill="rgb(255,0,0)" stroke="rgb(255,0,0)"/>
<circle cx="185.43" cy="188.22" r="0.85" fill="rgb(255,253,253)" stroke="rgb(255,253,253)"/>
<circle cx="160.83" cy="41.43" r="0.85" fill="rgb(255,155,155)" stroke="rgb(255,155,155)"/>
<circle cx="149.38" cy="75.40" r="0.85" fill="rgb(43,43,255)" stroke="rgb(43,43,255)"/>
<circle cx="156.76" cy="137.74" r="0.85" fill="rgb(198,198,255)" stroke="rgb(198,198,255)"/>
<circle cx="129.14" cy="174.57" r="0.85" fill="rgb(255,51,51)" stroke="rgb(255,51,51)"/>
<circle cx="193.96" cy="57.79" r="0.85" fill="rgb(255,109,109)" stroke="rgb(255,109,109)"/>
<circle cx="185.01" cy="58.92" r="0.85" fill="rgb(255,152,152)" stroke="rgb(255,152,152)"/>
<circle cx="170.03" cy="36.82" r="0.85" fill="rgb(255,203,203)" stroke="rgb(255,203,203)"/>
<circle cx="155.17" cy="75.28" r="0.85" fill="rgb(83,83,255)" stroke="rgb(83,83,255)"/>
<circle cx="138.04" cy="169.72" r="0.85" fill="rgb(255,60,60)" stroke="rgb(255,60,60)"/>
<circle cx="190.14" cy="87.80" r="0.85" fill="rgb(255,157,157)" stroke="rgb(255,157,157)"/>
<circle cx="208.32" cy="174.15" r="0.85" fill="rgb(178,178,255)" stroke="rgb(178,178,255)"/>
<circle cx="189.24" cy="137.33" r="0.85" fill="rgb(255,158,158)" stroke="rgb(255,158,158)"/>
<circle cx="200.77" cy="188.01" r="0.85" fill="rgb(255,176,176)" stroke="rgb(255,176,176)"/>
<circle cx="244.23" cy="220.41" r="0.85" fill="rgb(255,24,24)" stroke="rgb(255,24,24)"/>
<circle cx="185.52" cy="102.97" r="0.85" fill="rgb(181,181,255)" stroke="rgb(181,181,255)"/>
<circle cx="162.67" cy="219.64" r="0.85" fill="rgb(227,227,255)" stroke="rgb(227,227,255)"/>
<circle cx="158.63" cy="108.85" r="0.85" fill="rgb(255,159,159)" stroke="rgb(255,159,159)"/>
<circle cx="153.08" cy="139.15" r="0.85" fill="rgb(181,181,255)" stroke="rgb(181,181,255)"/>
<circle cx="154.44" cy="223.09" r="0.85" fill="rgb(255,239,239)" stroke="rgb(255,239,239)"/>
<circle cx="159.54" cy="55.90" r="0.85" fill="rgb(108,108,255)" stroke="rgb(108,108,255)"/>
<circle cx="189.63" cy="154.50" r="0.85" fill="rgb(255,187,187)" stroke="rgb(255,187,187)"/>
<circle cx="151.25" cy="168.77" r="0.85" fill="rgb(255,180,180)" stroke="rgb(255,180,180)"/>
<circle cx="159.12" cy="140.53" r="0.85" fill="rgb(127,127,255)" stroke="rgb(127,127,255)"/>
<circle cx="159.80" cy="73.64" r="0.85" fill="rgb(198,198,255)" stroke="rgb(198,198,255)"/>
<circle cx="188.69" cy="155.82" r="0.85" fill="rgb(255,176,176)" stroke="rgb(255,176,176)"/>
<circle cx="163.18" cy="89.25" r="0.85" fill="rgb(209,209,255)" stroke="rgb(209,209,255)"/>
<circle cx="152.70" cy="204.62" r="0.85" fill="rgb(255,212,212)" stroke="rgb(255,212,212)"/>
<circle cx="167.36" cy="222.13" r="0.85" fill="rgb(202,202,255)" stroke="rgb(202,202,255)"/>
<circle cx="196.14" cy="189.99" r="0.85" fill="rgb(255,129,129)" stroke="rgb(255,129,129)"/>
<circle cx="172.60" cy="224.40" r="0.85" fill="rgb(255,253,253)" stroke="rgb(255,253,253)"/>
<circle cx="199.28" cy="172.63" r="0.85" fill="rgb(176,176,255)" stroke="rgb(176,176,255)"/>
<circle cx="187.23" cy="42.10" r="0.85" fill="rgb(93,93,255)" stroke="rgb(93,93,255)"/>
<circle cx="183.53" cy="38.41" r="0.85" fill="rgb(172,172,255)" stroke="rgb(172,172,255)"/>
<circle cx="116.40" cy="203.82" r="0.85" fill="rgb(255,0,0)" stroke="rgb(255,0,0)"/>
<circle cx="169.33" cy="37.15" r="0.85" fill="rgb(255,223,223)" stroke="rgb(255,223,223)"/>
<circle cx="147.28" cy="140.42" r="0.85" fill="rgb(88,88,255)" stroke="rgb(88,88,255)"/>
<circle cx="184.83" cy="139.04" r="0.85" fill="rgb(255,213,213)" stroke="rgb(255,213,213)"/>
<circle cx="165.29" cy="58.26" r="0.85" fill="rgb(147,147,255)" stroke="rgb(147,147,255)"/>
<circle cx="159.96" cy="202.51" r="0.85" fill="rgb(255,239,239)" stroke="rgb(255,239,239)"/>
<circle cx="193.48" cy="108.21" r="0.85" fill="rgb(91,91,255)" stroke="rgb(91,91,255)"/>
<circle cx="154.01" cy="72.32" r="0.85" fill="rgb(55,55,255)" stroke="rgb(55,55,255)"/>
<circle cx="207.46" cy="185.87" r="0.85" fill="rgb(255,164,164)" stroke="rgb(255,164,164)"/>
<circle cx="177.62" cy="39.98" r="0.85" fill="rgb(211,211,255)" stroke="rgb(211,211,255)"/>
<circle cx="151.78" cy="120.79" r="0.85" fill="rgb(255,55,55)" stroke="rgb(255,55,55)"/>
<circle cx="182.77" cy="69.62" r="0.85" fill="rgb(255,176,176)" stroke="rgb(255,176,176)"/>
<circle cx="193.04" cy="54.88" r="0.85" fill="rgb(255,26,26)" stroke="rgb(255,26,26)"/>
<circle cx="196.02" cy="173.69" r="0.85" fill="rgb(172,172,255)" stroke="rgb(172,172,255)"/>
<circle cx="204.49" cy="90.94" r="0.85" fill="rgb(255,15,15)" stroke="rgb(255,15,15)"/>
<circle cx="174.29" cy="40.54" r="0.85" fill="rgb(255,253,253)" stroke="rgb(255,253,253)"/>
<circle cx="175.76" cy="41.63" r="0.85" fill="rgb(255,246,246)" stroke="rgb(255,246,246)"/>
<circle cx="204.88" cy="218.39" r="0.85" fill="rgb(255,159,159)" stroke="rgb(255,159,159)"/>
<circle cx="197.81" cy="120.93" r="0.85" fill="rgb(131,131,255)" stroke="rgb(131,131,255)"/>
<circle cx="212.22" cy="152.77" r="0.85" fill="rgb(255,64,64)" stroke="rgb(255,64,64)"/>
<circle cx="159.51" cy="88.61" r="0.85" fill="rgb(182,182,255)" stroke="rgb(182,182,255)"/>
<circle cx="167.05" cy="39.97" r="0.85" fill="rgb(255,232,232)" stroke="rgb(255,232,232)"/>
<circle cx="154.68" cy="108.81" r="0.85" fill="rgb(255,210,210)" stroke="rgb(255,210,210)"/>
<circle cx="165.93" cy="122.74" r="0.85" fill="rgb(255,229,229)" stroke="rgb(255,229,229)"/>
<circle cx="168.65" cy="55.65" r="0.85" fill="rgb(198,198,255)" stroke="rgb(198,198,255)"/>
<circle cx="175.68" cy="171.77" r="0.85" fill="rgb(247,247,255)" stroke="rgb(247,247,255)"/>
<circle cx="169.82" cy="54.50" r="0.85" fill="rgb(255,237,237)" stroke="rgb(255,237,237)"/>
<circle cx="171.92" cy="158.09" r="0.85" fill="rgb(255,215,215)" stroke="rgb(255,215,215)"/>
<circle cx="211.92" cy="156.65" r="0.85" fill="rgb(255,0,0)" stroke="rgb(255,0,0)"/>
<circle cx="153.66" cy="171.22" r="0.85" fill="rgb(255,210,210)" stroke="rgb(255,210,210)"/>
<circle cx="182.63" cy="206.43" r="0.85" fill="rgb(242,242,255)" stroke="rgb(242,242,255)"/>
<circle cx="118.87" cy="202.49" r="0.85" fill="rgb(255,0,0)" stroke="rgb(255,0,0)"/>
<circle cx="179.27" cy="55.71" r="0.85" fill="rgb(255,154,154)" stroke="rgb(255,154,154)"/>
<circle cx="172.95" cy="38.34" r="0.85" fill="rgb(239,239,255)" stroke="rgb(239,239,255)"/>
<circle cx="173.19" cy="153.70" r="0.85" fill="rgb(255,247,247)" stroke="rgb(255,247,247)"/>
<circle cx="178.00" cy="189.51" r="0.85" fill="rgb(243,243,255)" stroke="rgb(243,243,255)"/>
<circle cx="160.28" cy="72.34" r="0.85" fill="rgb(148,148,255)" stroke="rgb(148,148,255)"/>
<circle cx="158.61" cy="42.44" r="0.85" fill="rgb(255,72,72)" stroke="rgb(255,72,72)"/>
<circle cx="172.75" cy="104.87" r="0.85" fill="rgb(255,231,231)" stroke="rgb(255,231,231)"/>
<circle cx="204.09" cy="86.48" r="0.85" fill="rgb(255,60,60)" stroke="rgb(255,60,60)"/>
<circle cx="197.12" cy="205.09" r="0.85" fill="rgb(157,157,255)" stroke="rgb(157,157,255)"/>
<circle cx="163.89" cy="220.24" r="0.85" fill="rgb(218,218,255)" stroke="rgb(218,218,255)"/>
<circle cx="199.02" cy="123.15" r="0.85" fill="rgb(90,90,255)" stroke="rgb(90,90,255)"/>
<circle cx="183.87" cy="74.12" r="0.85" fill="rgb(255,152,152)" stroke="rgb(255,152,152)"/>
<circle cx="178.58" cy="86.55" r="0.85" fill="rgb(255,190,190)" stroke="rgb(255,190,190)"/>
<circle cx="204.51" cy="223.19" r="0.85" fill="rgb(255,145,145)" stroke="rgb(255,145,145)"/>
<circle cx="174.02" cy="122.36" r="0.85" fill="rgb(255,192,192)" stroke="rgb(255,192,192)"/>
<circle cx="163.76" cy="104.71" r="0.85" fill="rgb(255,161,161)" stroke="rgb(255,161,161)"/>
<circle cx="168.06" cy="171.44" r="0.85" fill="rgb(255,222,222)" stroke="rgb(255,222,222)"/>
<circle cx="139.56" cy="219.55" r="0.85" fill="rgb(143,143,255)" stroke="rgb(143,143,255)"/>
<circle cx="179.48" cy="70.29" r="0.85" fill="rgb(255,149,149)" stroke="rgb(255,149,149)"/>
<circle cx="186.87" cy="205.88" r="0.85" fill="rgb(244,244,255)" stroke="rgb(244,244,255)"/>
<circle cx="195.64" cy="106.96" r="0.85" fill="rgb(126,126,255)" stroke="rgb(126,126,255)"/>
<circle cx="158.85" cy="106.81" r="0.85" fill="rgb(255,231,231)" stroke="rgb(255,231,231)"/>
<circle cx="165.50" cy="105.69" r="0.85" fill="rgb(245,245,255)" stroke="rgb(245,245,255)"/>
<circle cx="162.42" cy="108.43" r="0.85" fill="rgb(255,180,180)" stroke="rgb(255,180,180)"/>
<circle cx="172.92" cy="38.31" r="0.85" fill="rgb(246,246,255)" stroke="rgb(246,246,255)"/>
<circle cx="186.44" cy="89.55" r="0.85" fill="rgb(255,134,134)" stroke="rgb(255,134,134)"/>
<circle cx="195.61" cy="186.61" r="0.85" fill="rgb(255,189,189)" stroke="rgb(255,189,189)"/>
<circle cx="162.07" cy="172.95" r="0.85" fill="rgb(255,74,74)" stroke="rgb(255,74,74)"/>
<circle cx="145.17" cy="71.80" r="0.85" fill="rgb(110,110,255)" stroke="rgb(110,110,255)"/>
<circle cx="154.77" cy="58.08" r="0.85" fill="rgb(76,76,255)" stroke="rgb(76,76,255)"/>
<circle cx="147.19" cy="191.22" r="0.85" fill="rgb(146,146,255)" stroke="rgb(146,146,255)"/>
<circle cx="186.73" cy="92.29" r="0.85" fill="rgb(255,165,165)" stroke="rgb(255,165,165)"/>
<circle cx="192.99" cy="58.15" r="0.85" fill="rgb(255,93,93)" stroke="rgb(255,93,93)"/>
<circle cx="195.74" cy="224.21" r="0.85" fill="rgb(255,178,178)" stroke="rgb(255,178,178)"/>
<circle cx="176.75" cy="74.60" r="0.85" fill="rgb(255,129,129)" stroke="rgb(255,129,129)"/>
<circle cx="189.22" cy="54.49" r="0.85" fill="rgb(255,131,131)" stroke="rgb(255,131,131)"/>
<circle cx="152.30" cy="140.86" r="0.85" fill="rgb(131,131,255)" stroke="rgb(131,131,255)"/>
<circle cx="207.93" cy="222.52" r="0.85" fill="rgb(255,148,148)" stroke="rgb(255,148,148)"/>
<circle cx="102.84" cy="205.83" r="0.85" fill="rgb(255,0,0)" stroke="rgb(255,0,0)"/>
<circle cx="172.22" cy="103.71" r="0.85" fill="rgb(255,250,250)" stroke="rgb(255,250,250)"/>
<circle cx="197.53" cy="71.68" r="0.85" fill="rgb(255,82,82)" stroke="rgb(255,82,82)"/>
<circle cx="185.37" cy="74.53" r="0.85" fill="rgb(255,198,198)" stroke="rgb(255,198,198)"/>
<circle cx="179.63" cy="169.58" r="0.85" fill="rgb(195,195,255)" stroke="rgb(195,195,255)"/>
<circle cx="173.13" cy="70.24" r="0.85" fill="rgb(205,205,255)" stroke="rgb(205,205,255)"/>
<circle cx="186.09" cy="88.33" r="0.85" fill="rgb(255,177,177)" stroke="rgb(255,177,177)"/>
<circle cx="174.68" cy="55.05" r="0.85" fill="rgb(255,220,220)" stroke="rgb(255,220,220)"/>
<circle cx="195.03" cy="121.12" r="0.85" fill="rgb(83,83,255)" stroke="rgb(83,83,255)"/>
<circle cx="168.13" cy="104.43" r="0.85" fill="rgb(255,196,196)" stroke="rgb(255,196,196)"/>
<circle cx="175.17" cy="87.83" r="0.85" fill="rgb(255,197,197)" stroke="rgb(255,197,197)"/>
<circle cx="158.59" cy="207.70" r="0.85" fill="rgb(255,179,179)" stroke="rgb(255,179,179)"/>
<circle cx="213.91" cy="204.55" r="0.85" fill="rgb(72,72,255)" stroke="rgb(72,72,255)"/>
<circle cx="155.28" cy="121.07" r="0.85" fill="rgb(255,152,152)" stroke="rgb(255,152,152)"/>
<circle cx="155.68" cy="186.52" r="0.85" fill="rgb(165,165,255)" stroke="rgb(165,165,255)"/>
<circle cx="181.80" cy="90.04" r="0.85" fill="rgb(255,111,111)" stroke="rgb(255,111,111)"/>
<circle cx="159.76" cy="156.97" r="0.85" fill="rgb(208,208,255)" stroke="rgb(208,208,255)"/>
<circle cx="161.86" cy="57.05" r="0.85" fill="rgb(207,207,255)" stroke="rgb(207,207,255)"/>
<circle cx="201.33" cy="119.30" r="0.85" fill="rgb(87,87,255)" stroke="rgb(87,87,255)"/>
<circle cx="176.77" cy="138.67" r="0.85" fill="rgb(255,217,217)" stroke="rgb(255,217,217)"/>
<circle cx="160.83" cy="186.58" r="0.85" fill="rgb(215,215,255)" stroke="rgb(215,215,255)"/>
<circle cx="151.43" cy="168.93" r="0.85" fill="rgb(255,146,146)" stroke="rgb(255,146,146)"/>
<circle cx="171.77" cy="169.95" r="0.85" fill="rgb(194,194,255)" stroke="rgb(194,194,255)"/>
<circle cx="145.04" cy="185.62" r="0.85" fill="rgb(158,158,255)" stroke="rgb(158,158,255)"/>
<circle cx="170.77" cy="136.16" r="0.85" fill="rgb(255,225,225)" stroke="rgb(255,225,225)"/>
<circle cx="199.94" cy="124.48" r="0.85" fill="rgb(73,73,255)" stroke="rgb(73,73,255)"/>
<circle cx="160.50" cy="73.47" r="0.85" fill="rgb(239,239,255)" stroke="rgb(239,239,255)"/>
<circle cx="108.59" cy="222.19" r="0.85" fill="rgb(70,70,255)" stroke="rgb(70,70,255)"/>
<circle cx="181.11" cy="37.88" r="0.85" fill="rgb(107,107,255)" stroke="rgb(107,107,255)"/>
<circle cx="220.11" cy="172.58" r="0.85" fill="rgb(67,67,255)" stroke="rgb(67,67,255)"/>
<circle cx="218.11" cy="189.45" r="0.85" fill="rgb(255,20,20)" stroke="rgb(255,20,20)"/>
<circle cx="165.20" cy="185.27" r="0.85" fill="rgb(164,164,255)" stroke="rgb(164,164,255)"/>
<circle cx="187.00" cy="172.82" r="0.85" fill="rgb(200,200,255)" stroke="rgb(200,200,255)"/>
<circle cx="147.75" cy="170.36" r="0.85" fill="rgb(255,187,187)" stroke="rgb(255,187,187)"/>
<circle cx="165.17" cy="38.73" r="0.85" fill="rgb(255,132,132)" stroke="rgb(255,132,132)"/>
<circle cx="180.89" cy="55.29" r="0.85" fill="rgb(254,254,255)" stroke="rgb(254,254,255)"/>
<circle cx="177.91" cy="141.34" r="0.85" fill="rgb(255,149,149)" stroke="rgb(255,149,149)"/>
<circle cx="167.29" cy="207.90" r="0.85" fill="rgb(255,199,199)" stroke="rgb(255,199,199)"/>
<circle cx="186.29" cy="40.08" r="0.85" fill="rgb(184,184,255)" stroke="rgb(184,184,255)"/>
<circle cx="164.23" cy="140.88" r="0.85" fill="rgb(121,121,255)" stroke="rgb(121,121,255)"/>
<circle cx="156.24" cy="208.02" r="0.85" fill="rgb(255,174,174)" stroke="rgb(255,174,174)"/>
<circle cx="171.81" cy="73.70" r="0.85" fill="rgb(255,245,245)" stroke="rgb(255,245,245)"/>
<circle cx="160.32" cy="102.61" r="0.85" fill="rgb(255,212,212)" stroke="rgb(255,212,212)"/>
<circle cx="139.55" cy="103.94" r="0.85" fill="rgb(255,63,63)" stroke="rgb(255,63,63)"/>
<circle cx="178.99" cy="39.22" r="0.85" fill="rgb(196,196,255)" stroke="rgb(196,196,255)"/>
<circle cx="175.18" cy="53.28" r="0.85" fill="rgb(248,248,255)" stroke="rgb(248,248,255)"/>
<circle cx="154.55" cy="39.91" r="0.85" fill="rgb(255,39,39)" stroke="rgb(255,39,39)"/>
<circle cx="129.58" cy="223.30" r="0.85" fill="rgb(113,113,255)" stroke="rgb(113,113,255)"/>
<circle cx="186.82" cy="187.19" r="0.85" fill="rgb(255,247,247)" stroke="rgb(255,247,247)"/>
<circle cx="154.27" cy="170.31" r="0.85" fill="rgb(255,153,153)" stroke="rgb(255,153,153)"/>
<circle cx="121.34" cy="207.16" r="0.85" fill="rgb(255,0,0)" stroke="rgb(255,0,0)"/>
<circle cx="169.50" cy="154.62" r="0.85" fill="rgb(255,202,202)" stroke="rgb(255,202,202)"/>
<circle cx="144.03" cy="157.09" r="0.85" fill="rgb(129,129,255)" stroke="rgb(129,129,255)"/>
<circle cx="161.73" cy="119.18" r="0.85" fill="rgb(255,213,213)" stroke="rgb(255,213,213)"/>
<circle cx="129.84" cy="202.51" r="0.85" fill="rgb(255,38,38)" stroke="rgb(255,38,38)"/>
<circle cx="174.27" cy="155.23" r="0.85" fill="rgb(255,233,233)" stroke="rgb(255,233,233)"/>
<circle cx="192.09" cy="137.17" r="0.85" fill="rgb(255,68,68)" stroke="rgb(255,68,68)"/>
<circle cx="187.32" cy="185.90" r="0.85" fill="rgb(255,117,117)" stroke="rgb(255,117,117)"/>
<circle cx="176.58" cy="37.67" r="0.85" fill="rgb(216,216,255)" stroke="rgb(216,216,255)"/>
<circle cx="193.89" cy="40.21" r="0.85" fill="rgb(28,28,255)" stroke="rgb(28,28,255)"/>
<circle cx="186.88" cy="186.92" r="0.85" fill="rgb(255,195,195)" stroke="rgb(255,195,195)"/>
<circle cx="199.17" cy="171.38" r="0.85" fill="rgb(128,128,255)" stroke="rgb(128,128,255)"/>
<circle cx="190.74" cy="171.32" r="0.85" fill="rgb(171,171,255)" stroke="rgb(171,171,255)"/>
<circle cx="231.48" cy="206.36" r="0.85" fill="rgb(32,32,255)" stroke="rgb(32,32,255)"/>
<circle cx="169.65" cy="205.69" r="0.85" fill="rgb(255,199,199)" stroke="rgb(255,199,199)"/>
<circle cx="187.42" cy="41.44" r="0.85" fill="rgb(61,61,255)" stroke="rgb(61,61,255)"/>
<circle cx="186.68" cy="40.20" r="0.85" fill="rgb(87,87,255)" stroke="rgb(87,87,255)"/>
<circle cx="193.94" cy="173.56" r="0.85" fill="rgb(187,187,255)" stroke="rgb(187,187,255)"/>
<circle cx="145.99" cy="74.98" r="0.85" fill="rgb(64,64,255)" stroke="rgb(64,64,255)"/>
<circle cx="167.83" cy="69.74" r="0.85" fill="rgb(211,211,255)" stroke="rgb(211,211,255)"/>
<circle cx="221.47" cy="187.00" r="0.85" fill="rgb(255,11,11)" stroke="rgb(255,11,11)"/>
<circle cx="165.69" cy="54.56" r="0.85" fill="rgb(154,154,255)" stroke="rgb(154,154,255)"/>
<circle cx="115.99" cy="190.47" r="0.85" fill="rgb(0,0,255)" stroke="rgb(0,0,255)"/>
<circle cx="154.96" cy="86.83" r="0.85" fill="rgb(115,115,255)" stroke="rgb(115,115,255)"/>
<circle cx="152.37" cy="36.55" r="0.85" fill="rgb(255,60,60)" stroke="rgb(255,60,60)"/>
<circle cx="169.57" cy="138.79" r="0.85" fill="rgb(197,197,255)" stroke="rgb(197,197,255)"/>
<circle cx="161.27" cy="158.15" r="0.85" fill="rgb(255,240,240)" stroke="rgb(255,240,240)"/>
<circle cx="183.42" cy="124.42" r="0.85" fill="rgb(164,164,255)" stroke="rgb(164,164,255)"/>
<circle cx="200.40" cy="89.13" r="0.85" fill="rgb(255,62,62)" stroke="rgb(255,62,62)"/>
<circle cx="152.14" cy="137.08" r="0.85" fill="rgb(107,107,255)" stroke="rgb(107,107,255)"/>
<circle cx="151.20" cy="191.49" r="0.85" fill="rgb(96,96,255)" stroke="rgb(96,96,255)"/>
<circle cx="170.78" cy="153.33" r="0.85" fill="rgb(220,220,255)" stroke="rgb(220,220,255)"/>
<circle cx="170.94" cy="37.02" r="0.85" fill="rgb(255,208,208)" stroke="rgb(255,208,208)"/>
<circle cx="192.47" cy="108.22" r="0.85" fill="rgb(98,98,255)" stroke="rgb(98,98,255)"/>
<circle cx="196.83" cy="71.87" r="0.85" fill="rgb(255,70,70)" stroke="rgb(255,70,70)"/>
<circle cx="167.68" cy="206.40" r="0.85" fill="rgb(255,218,218)" stroke="rgb(255,218,218)"/>
<circle cx="196.63" cy="89.24" r="0.85" fill="rgb(255,140,140)" stroke="rgb(255,140,140)"/>
<circle cx="161.98" cy="173.86" r="0.85" fill="rgb(255,212,212)" stroke="rgb(255,212,212)"/>
<circle cx="168.28" cy="38.70" r="0.85" fill="rgb(255,212,212)" stroke="rgb(255,212,212)"/>
<circle cx="177.75" cy="36.49" r="0.85" fill="rgb(177,177,255)" stroke="rgb(177,177,255)"/>
<circle cx="221.96" cy="174.34" r="0.85" fill="rgb(38,38,255)" stroke="rgb(38,38,255)"/>
<circle cx="174.19" cy="138.08" r="0.85" fill="rgb(245,245,255)" stroke="rgb(245,245,255)"/>
<circle cx="147.86" cy="71.20" r="0.85" fill="rgb(91,91,255)" stroke="rgb(91,91,255)"/>
<circle cx="178.64" cy="41.12" r="0.85" fill="rgb(140,140,255)" stroke="rgb(140,140,255)"/>
<circle cx="150.15" cy="57.78" r="0.85" fill="rgb(135,135,255)" stroke="rgb(135,135,255)"/>
<circle cx="174.72" cy="86.42" r="0.85" fill="rgb(183,183,255)" stroke="rgb(183,183,255)"/>
<circle cx="158.25" cy="203.42" r="0.85" fill="rgb(255,159,159)" stroke="rgb(255,159,159)"/>
<circle cx="190.03" cy="188.70" r="0.85" fill="rgb(255,194,194)" stroke="rgb(255,194,194)"/>
<circle cx="176.66" cy="69.79" r="0.85" fill="rgb(255,200,200)" stroke="rgb(255,200,200)"/>
<circle cx="157.99" cy="223.60" r="0.85" fill="rgb(204,204,255)" stroke="rgb(204,204,255)"/>
<circle cx="195.30" cy="172.33" r="0.85" fill="rgb(185,185,255)" stroke="rgb(185,185,255)"/>
<circle cx="157.38" cy="89.22" r="0.85" fill="rgb(129,129,255)" stroke="rgb(129,129,255)"/>
<circle cx="145.29" cy="185.69" r="0.85" fill="rgb(141,141,255)" stroke="rgb(141,141,255)"/>
<circle cx="174.43" cy="188.25" r="0.85" fill="rgb(255,211,211)" stroke="rgb(255,211,211)"/>
<circle cx="156.83" cy="157.92" r="0.85" fill="rgb(242,242,255)" stroke="rgb(242,242,255)"/>
<circle cx="163.48" cy="205.53" r="0.85" fill="rgb(233,233,255)" stroke="rgb(233,233,255)"/>
<circle cx="169.83" cy="86.71" r="0.85" fill="rgb(200,200,255)" stroke="rgb(200,200,255)"/>
<circle cx="148.63" cy="91.54" r="0.85" fill="rgb(44,44,255)" stroke="rgb(44,44,255)"/>
<circle cx="195.46" cy="139.78" r="0.85" fill="rgb(255,111,111)" stroke="rgb(255,111,111)"/>
<circle cx="162.74" cy="191.25" r="0.85" fill="rgb(219,219,255)" stroke="rgb(219,219,255)"/>
<circle cx="153.60" cy="38.47" r="0.85" fill="rgb(255,19,19)" stroke="rgb(255,19,19)"/>
<circle cx="133.80" cy="153.18" r="0.85" fill="rgb(58,58,255)" stroke="rgb(58,58,255)"/>
<circle cx="184.60" cy="188.95" r="0.85" fill="rgb(255,191,191)" stroke="rgb(255,191,191)"/>
<circle cx="178.46" cy="138.92" r="0.85" fill="rgb(255,238,238)" stroke="rgb(255,238,238)"/>
<circle cx="174.69" cy="153.06" r="0.85" fill="rgb(222,222,255)" stroke="rgb(222,222,255)"/>
<circle cx="191.62" cy="223.10" r="0.85" fill="rgb(255,254,254)" stroke="rgb(255,254,254)"/>
<circle cx="149.36" cy="154.47" r="0.85" fill="rgb(124,124,255)" stroke="rgb(124,124,255)"/>
<circle cx="159.82" cy="119.82" r="0.85" fill="rgb(255,230,230)" stroke="rgb(255,230,230)"/>
<circle cx="174.09" cy="187.78" r="0.85" fill="rgb(216,216,255)" stroke="rgb(216,216,255)"/>
<circle cx="172.76" cy="54.91" r="0.85" fill="rgb(200,200,255)" stroke="rgb(200,200,255)"/>
<circle cx="153.67" cy="140.35" r="0.85" fill="rgb(165,165,255)" stroke="rgb(165,165,255)"/>
<circle cx="151.81" cy="120.75" r="0.85" fill="rgb(255,135,135)" stroke="rgb(255,135,135)"/>
<circle cx="199.90" cy="187.39" r="0.85" fill="rgb(255,118,118)" stroke="rgb(255,118,118)"/>
<circle cx="138.38" cy="203.09" r="0.85" fill="rgb(255,117,117)" stroke="rgb(255,117,117)"/>
<circle cx="225.17" cy="202.87" r="0.85" fill="rgb(40,40,255)" stroke="rgb(40,40,255)"/>
<circle cx="138.51" cy="204.66" r="0.85" fill="rgb(255,85,85)" stroke="rgb(255,85,85)"/>
<circle cx="161.68" cy="154.41" r="0.85" fill="rgb(207,207,255)" stroke="rgb(207,207,255)"/>
<circle cx="179.22" cy="73.96" r="0.85" fill="rgb(255,241,241)" stroke="rgb(255,241,241)"/>
<circle cx="152.76" cy="171.95" r="0.85" fill="rgb(255,106,106)" stroke="rgb(255,106,106)"/>
<circle cx="179.19" cy="155.42" r="0.85" fill="rgb(203,203,255)" stroke="rgb(203,203,255)"/>
<circle cx="165.87" cy="54.12" r="0.85" fill="rgb(212,212,255)" stroke="rgb(212,212,255)"/>
<circle cx="157.11" cy="205.17" r="0.85" fill="rgb(255,207,207)" stroke="rgb(255,207,207)"/>
<circle cx="221.07" cy="174.03" r="0.85" fill="rgb(80,80,255)" stroke="rgb(80,80,255)"/>
<circle cx="184.31" cy="37.92" r="0.85" fill="rgb(99,99,255)" stroke="rgb(99,99,255)"/>
<circle cx="189.28" cy="57.24" r="0.85" fill="rgb(255,117,117)" stroke="rgb(255,117,117)"/>
<circle cx="146.66" cy="138.33" r="0.85" fill="rgb(147,147,255)" stroke="rgb(147,147,255)"/>
<circle cx="147.70" cy="88.66" r="0.85" fill="rgb(57,57,255)" stroke="rgb(57,57,255)"/>
<circle cx="163.38" cy="38.29" r="0.85" fill="rgb(255,168,168)" stroke="rgb(255,168,168)"/>
<circle cx="234.52" cy="222.36" r="0.85" fill="rgb(255,9,9)" stroke="rgb(255,9,9)"/>
<circle cx="231.41" cy="202.91" r="0.85" fill="rgb(131,131,255)" stroke="rgb(131,131,255)"/>
<circle cx="153.12" cy="202.68" r="0.85" fill="rgb(255,131,131)" stroke="rgb(255,131,131)"/>
<circle cx="188.70" cy="203.62" r="0.85" fill="rgb(207,207,255)" stroke="rgb(207,207,255)"/>
<circle cx="209.30" cy="220.28" r="0.85" fill="rgb(255,174,174)" stroke="rgb(255,174,174)"/>
<circle cx="181.96" cy="152.47" r="0.85" fill="rgb(255,150,150)" stroke="rgb(255,150,150)"/>
<circle cx="151.51" cy="57.54" r="0.85" fill="rgb(82,82,255)" stroke="rgb(82,82,255)"/>
<circle cx="163.84" cy="172.96" r="0.85" fill="rgb(254,254,255)" stroke="rgb(254,254,255)"/>
<circle cx="153.71" cy="169.47" r="0.85" fill="rgb(255,198,198)" stroke="rgb(255,198,198)"/>
<circle cx="155.51" cy="54.43" r="0.85" fill="rgb(100,100,255)" stroke="rgb(100,100,255)"/>
<circle cx="153.86" cy="157.91" r="0.85" fill="rgb(253,253,255)" stroke="rgb(253,253,255)"/>
<circle cx="155.16" cy="70.46" r="0.85" fill="rgb(141,141,255)" stroke="rgb(141,141,255)"/>
<circle cx="156.88" cy="108.08" r="0.85" fill="rgb(255,245,245)" stroke="rgb(255,245,245)"/>
<circle cx="222.88" cy="188.01" r="0.85" fill="rgb(255,95,95)" stroke="rgb(255,95,95)"/>
<circle cx="183.09" cy="73.16" r="0.85" fill="rgb(255,211,211)" stroke="rgb(255,211,211)"/>
<circle cx="199.97" cy="157.95" r="0.85" fill="rgb(255,139,139)" stroke="rgb(255,139,139)"/>
<circle cx="149.88" cy="105.47" r="0.85" fill="rgb(255,159,159)" stroke="rgb(255,159,159)"/>
<circle cx="145.49" cy="185.60" r="0.85" fill="rgb(197,197,255)" stroke="rgb(197,197,255)"/>
<circle cx="167.67" cy="119.28" r="0.85" fill="rgb(236,236,255)" stroke="rgb(236,236,255)"/>
<circle cx="151.03" cy="88.45" r="0.85" fill="rgb(90,90,255)" stroke="rgb(90,90,255)"/>
<circle cx="207.66" cy="173.22" r="0.85" fill="rgb(159,159,255)" stroke="rgb(159,159,255)"/>
<circle cx="172.50" cy="41.49" r="0.85" fill="rgb(255,233,233)" stroke="rgb(255,233,233)"/>
<circle cx="157.50" cy="92.30" r="0.85" fill="rgb(115,115,255)" stroke="rgb(115,115,255)"/>
<circle cx="150.46" cy="125.30" r="0.85" fill="rgb(255,116,116)" stroke="rgb(255,116,116)"/>
<circle cx="197.23" cy="119.13" r="0.85" fill="rgb(133,133,255)" stroke="rgb(133,133,255)"/>
<circle cx="196.73" cy="123.08" r="0.85" fill="rgb(167,167,255)" stroke="rgb(167,167,255)"/>
<circle cx="169.39" cy="53.25" r="0.85" fill="rgb(226,226,255)" stroke="rgb(226,226,255)"/>
<circle cx="199.01" cy="173.18" r="0.85" fill="rgb(173,173,255)" stroke="rgb(173,173,255)"/>
<circle cx="159.34" cy="104.83" r="0.85" fill="rgb(255,189,189)" stroke="rgb(255,189,189)"/>
<circle cx="172.91" cy="157.03" r="0.85" fill="rgb(233,233,255)" stroke="rgb(233,233,255)"/>
<circle cx="152.00" cy="57.10" r="0.85" fill="rgb(106,106,255)" stroke="rgb(106,106,255)"/>
<circle cx="227.61" cy="205.54" r="0.85" fill="rgb(103,103,255)" stroke="rgb(103,103,255)"/>
<circle cx="121.64" cy="221.22" r="0.85" fill="rgb(109,109,255)" stroke="rgb(109,109,255)"/>
<circle cx="179.86" cy="171.24" r="0.85" fill="rgb(235,235,255)" stroke="rgb(235,235,255)"/>
<circle cx="170.40" cy="157.59" r="0.85" fill="rgb(255,224,224)" stroke="rgb(255,224,224)"/>
<circle cx="170.15" cy="106.70" r="0.85" fill="rgb(255,254,254)" stroke="rgb(255,254,254)"/>
<circle cx="170.58" cy="136.42" r="0.85" fill="rgb(255,179,179)" stroke="rgb(255,179,179)"/>
<circle cx="162.09" cy="102.87" r="0.85" fill="rgb(255,231,231)" stroke="rgb(255,231,231)"/>
<circle cx="164.96" cy="71.79" r="0.85" fill="rgb(224,224,255)" stroke="rgb(224,224,255)"/>
<circle cx="175.50" cy="104.17" r="0.85" fill="rgb(237,237,255)" stroke="rgb(237,237,255)"/>
<circle cx="214.15" cy="187.88" r="0.85" fill="rgb(255,110,110)" stroke="rgb(255,110,110)"/>
<circle cx="170.52" cy="37.68" r="0.85" fill="rgb(255,206,206)" stroke="rgb(255,206,206)"/>
<circle cx="153.93" cy="36.62" r="0.85" fill="rgb(255,64,64)" stroke="rgb(255,64,64)"/>
<circle cx="194.67" cy="55.26" r="0.85" fill="rgb(255,128,128)" stroke="rgb(255,128,128)"/>
<circle cx="203.70" cy="71.02" r="0.85" fill="rgb(255,41,41)" stroke="rgb(255,41,41)"/>
<circle cx="180.52" cy="122.50" r="0.85" fill="rgb(233,233,255)" stroke="rgb(233,233,255)"/>
<circle cx="177.80" cy="75.45" r="0.85" fill="rgb(255,200,200)" stroke="rgb(255,200,200)"/>
<circle cx="156.21" cy="106.47" r="0.85" fill="rgb(255,209,209)" stroke="rgb(255,209,209)"/>
<circle cx="243.40" cy="185.39" r="0.85" fill="rgb(255,0,0)" stroke="rgb(255,0,0)"/>
<circle cx="228.20" cy="174.49" r="0.85" fill="rgb(0,0,255)" stroke="rgb(0,0,255)"/>
<circle cx="200.09" cy="87.07" r="0.85" fill="rgb(255,65,65)" stroke="rgb(255,65,65)"/>
<circle cx="205.73" cy="223.60" r="0.85" fill="rgb(255,210,210)" stroke="rgb(255,210,210)"/>
<circle cx="190.71" cy="106.45" r="0.85" fill="rgb(91,91,255)" stroke="rgb(91,91,255)"/>
<circle cx="187.40" cy="104.37" r="0.85" fill="rgb(148,148,255)" stroke="rgb(148,148,255)"/>
<circle cx="165.10" cy="223.42" r="0.85" fill="rgb(240,240,255)" stroke="rgb(240,240,255)"/>
<circle cx="174.19" cy="91.94" r="0.85" fill="rgb(206,206,255)" stroke="rgb(206,206,255)"/>
<circle cx="147.05" cy="120.76" r="0.85" fill="rgb(255,105,105)" stroke="rgb(255,105,105)"/>
<circle cx="188.87" cy="40.34" r="0.85" fill="rgb(90,90,255)" stroke="rgb(90,90,255)"/>
<circle cx="137.20" cy="218.97" r="0.85" fill="rgb(190,190,255)" stroke="rgb(190,190,255)"/>
<circle cx="167.95" cy="58.51" r="0.85" fill="rgb(166,166,255)" stroke="rgb(166,166,255)"/>
<circle cx="152.89" cy="120.29" r="0.85" fill="rgb(255,102,102)" stroke="rgb(255,102,102)"/>
<circle cx="173.07" cy="106.96" r="0.85" fill="rgb(255,253,253)" stroke="rgb(255,253,253)"/>
<circle cx="193.52" cy="71.39" r="0.85" fill="rgb(255,39,39)" stroke="rgb(255,39,39)"/>
<circle cx="197.07" cy="172.08" r="0.85" fill="rgb(157,157,255)" stroke="rgb(157,157,255)"/>
<circle cx="130.38" cy="173.87" r="0.85" fill="rgb(255,40,40)" stroke="rgb(255,40,40)"/>
<circle cx="157.89" cy="205.29" r="0.85" fill="rgb(255,239,239)" stroke="rgb(255,239,239)"/>
<circle cx="186.53" cy="190.40" r="0.85" fill="rgb(255,211,211)" stroke="rgb(255,211,211)"/>
<circle cx="166.10" cy="103.92" r="0.85" fill="rgb(255,236,236)" stroke="rgb(255,236,236)"/>
<circle cx="215.30" cy="153.70" r="0.85" fill="rgb(255,105,105)" stroke="rgb(255,105,105)"/>
<circle cx="151.87" cy="57.37" r="0.85" fill="rgb(119,119,255)" stroke="rgb(119,119,255)"/>
<circle cx="183.74" cy="73.26" r="0.85" fill="rgb(255,217,217)" stroke="rgb(255,217,217)"/>
<circle cx="167.50" cy="91.67" r="0.85" fill="rgb(216,216,255)" stroke="rgb(216,216,255)"/>
<circle cx="194.78" cy="219.84" r="0.85" fill="rgb(255,216,216)" stroke="rgb(255,216,216)"/>
<circle cx="186.79" cy="121.94" r="0.85" fill="rgb(117,117,255)" stroke="rgb(117,117,255)"/>
<circle cx="154.91" cy="138.98" r="0.85" fill="rgb(96,96,255)" stroke="rgb(96,96,255)"/>
<circle cx="197.99" cy="120.52" r="0.85" fill="rgb(139,139,255)" stroke="rgb(139,139,255)"/>
<circle cx="183.45" cy="124.79" r="0.85" fill="rgb(183,183,255)" stroke="rgb(183,183,255)"/>
<circle cx="176.81" cy="70.29" r="0.85" fill="rgb(255,209,209)" stroke="rgb(255,209,209)"/>
<circle cx="151.49" cy="172.58" r="0.85" fill="rgb(255,171,171)" stroke="rgb(255,171,171)"/>
<circle cx="191.23" cy="189.49" r="0.85" fill="rgb(255,188,188)" stroke="rgb(255,188,188)"/>
<circle cx="158.01" cy="157.76" r="0.85" fill="rgb(170,170,255)" stroke="rgb(170,170,255)"/>
<circle cx="172.92" cy="53.96" r="0.85" fill="rgb(255,248,248)" stroke="rgb(255,248,248)"/>
<circle cx="150.80" cy="188.29" r="0.85" fill="rgb(40,40,255)" stroke="rgb(40,40,255)"/>
<circle cx="134.67" cy="174.40" r="0.85" fill="rgb(255,40,40)" stroke="rgb(255,40,40)"/>
<circle cx="219.86" cy="171.54" r="0.85" fill="rgb(74,74,255)" stroke="rgb(74,74,255)"/>
<circle cx="199.74" cy="73.04" r="0.85" fill="rgb(255,103,103)" stroke="rgb(255,103,103)"/>
<circle cx="185.85" cy="190.55" r="0.85" fill="rgb(255,219,219)" stroke="rgb(255,219,219)"/>
<circle cx="188.57" cy="39.93" r="0.85" fill="rgb(147,147,255)" stroke="rgb(147,147,255)"/>
<circle cx="157.41" cy="125.04" r="0.85" fill="rgb(255,184,184)" stroke="rgb(255,184,184)"/>
<circle cx="182.24" cy="104.56" r="0.85" fill="rgb(174,174,255)" stroke="rgb(174,174,255)"/>
<circle cx="167.48" cy="122.45" r="0.85" fill="rgb(255,241,241)" stroke="rgb(255,241,241)"/>
<circle cx="165.98" cy="189.50" r="0.85" fill="rgb(255,192,192)" stroke="rgb(255,192,192)"/>
<circle cx="172.08" cy="137.17" r="0.85" fill="rgb(239,239,255)" stroke="rgb(239,239,255)"/>
<circle cx="82.70" cy="222.70" r="0.85" fill="rgb(0,0,255)" stroke="rgb(0,0,255)"/>
<circle cx="176.73" cy="185.83" r="0.85" fill="rgb(255,250,250)" stroke="rgb(255,250,250)"/>
<circle cx="165.33" cy="139.64" r="0.85" fill="rgb(220,220,255)" stroke="rgb(220,220,255)"/>
<circle cx="154.70" cy="220.40" r="0.85" fill="rgb(187,187,255)" stroke="rgb(187,187,255)"/>
<circle cx="158.10" cy="173.86" r="0.85" fill="rgb(255,243,243)" stroke="rgb(255,243,243)"/>
<circle cx="162.45" cy="224.44" r="0.85" fill="rgb(195,195,255)" stroke="rgb(195,195,255)"/>
<circle cx="136.24" cy="189.35" r="0.85" fill="rgb(94,94,255)" stroke="rgb(94,94,255)"/>
<circle cx="214.88" cy="156.37" r="0.85" fill="rgb(255,78,78)" stroke="rgb(255,78,78)"/>
<circle cx="158.43" cy="139.26" r="0.85" fill="rgb(140,140,255)" stroke="rgb(140,140,255)"/>
<circle cx="170.93" cy="105.08" r="0.85" fill="rgb(235,235,255)" stroke="rgb(235,235,255)"/>
<circle cx="169.55" cy="38.26" r="0.85" fill="rgb(255,221,221)" stroke="rgb(255,221,221)"/>
<circle cx="159.94" cy="86.05" r="0.85" fill="rgb(144,144,255)" stroke="rgb(144,144,255)"/>
<circle cx="199.15" cy="124.82" r="0.85" fill="rgb(155,155,255)" stroke="rgb(155,155,255)"/>
<circle cx="169.88" cy="70.08" r="0.85" fill="rgb(167,167,255)" stroke="rgb(167,167,255)"/>
<circle cx="196.52" cy="139.17" r="0.85" fill="rgb(255,159,159)" stroke="rgb(255,159,159)"/>
<circle cx="164.80" cy="223.28" r="0.85" fill="rgb(221,221,255)" stroke="rgb(221,221,255)"/>
<circle cx="145.18" cy="170.09" r="0.85" fill="rgb(255,127,127)" stroke="rgb(255,127,127)"/>
<circle cx="165.06" cy="54.10" r="0.85" fill="rgb(197,197,255)" stroke="rgb(197,197,255)"/>
<circle cx="155.78" cy="53.73" r="0.85" fill="rgb(161,161,255)" stroke="rgb(161,161,255)"/>
<circle cx="154.21" cy="122.23" r="0.85" fill="rgb(255,135,135)" stroke="rgb(255,135,135)"/>
<circle cx="170.64" cy="139.14" r="0.85" fill="rgb(255,255,255)" stroke="rgb(255,255,255)"/>
<circle cx="134.16" cy="191.24" r="0.85" fill="rgb(141,141,255)" stroke="rgb(141,141,255)"/>
<circle cx="172.90" cy="120.31" r="0.85" fill="rgb(255,252,252)" stroke="rgb(255,252,252)"/>
<circle cx="145.17" cy="71.10" r="0.85" fill="rgb(36,36,255)" stroke="rgb(36,36,255)"/>
<circle cx="183.66" cy="188.34" r="0.85" fill="rgb(241,241,255)" stroke="rgb(241,241,255)"/>
<circle cx="161.60" cy="86.50" r="0.85" fill="rgb(211,211,255)" stroke="rgb(211,211,255)"/>
<circle cx="142.96" cy="153.74" r="0.85" fill="rgb(147,147,255)" stroke="rgb(147,147,255)"/>
<circle cx="171.18" cy="206.11" r="0.85" fill="rgb(255,186,186)" stroke="rgb(255,186,186)"/>
<circle cx="177.76" cy="137.46" r="0.85" fill="rgb(242,242,255)" stroke="rgb(242,242,255)"/>
<circle cx="173.75" cy="137.56" r="0.85" fill="rgb(255,218,218)" stroke="rgb(255,218,218)"/>
<circle cx="167.85" cy="219.08" r="0.85" fill="rgb(255,233,233)" stroke="rgb(255,233,233)"/>
<circle cx="161.02" cy="154.32" r="0.85" fill="rgb(165,165,255)" stroke="rgb(165,165,255)"/>
<circle cx="137.05" cy="137.87" r="0.85" fill="rgb(99,99,255)" stroke="rgb(99,99,255)"/>
<circle cx="192.23" cy="138.59" r="0.85" fill="rgb(255,124,124)" stroke="rgb(255,124,124)"/>
<circle cx="155.85" cy="41.85" r="0.85" fill="rgb(255,73,73)" stroke="rgb(255,73,73)"/>
<circle cx="181.81" cy="90.55" r="0.85" fill="rgb(255,187,187)" stroke="rgb(255,187,187)"/>
<circle cx="145.01" cy="186.42" r="0.85" fill="rgb(143,143,255)" stroke="rgb(143,143,255)"/>
<circle cx="163.94" cy="86.68" r="0.85" fill="rgb(164,164,255)" stroke="rgb(164,164,255)"/>
<circle cx="162.09" cy="87.53" r="0.85" fill="rgb(144,144,255)" stroke="rgb(144,144,255)"/>
<circle cx="169.33" cy="106.76" r="0.85" fill="rgb(255,247,247)" stroke="rgb(255,247,247)"/>
<circle cx="188.71" cy="57.77" r="0.85" fill="rgb(255,115,115)" stroke="rgb(255,115,115)"/>
<circle cx="196.80" cy="54.72" r="0.85" fill="rgb(255,90,90)" stroke="rgb(255,90,90)"/>
<circle cx="135.71" cy="169.73" r="0.85" fill="rgb(255,125,125)" stroke="rgb(255,125,125)"/>
<circle cx="174.39" cy="53.32" r="0.85" fill="rgb(255,229,229)" stroke="rgb(255,229,229)"/>
<circle cx="177.89" cy="56.94" r="0.85" fill="rgb(255,209,209)" stroke="rgb(255,209,209)"/>
<circle cx="208.44" cy="221.06" r="0.85" fill="rgb(255,67,67)" stroke="rgb(255,67,67)"/>
<circle cx="210.26" cy="203.43" r="0.85" fill="rgb(150,150,255)" stroke="rgb(150,150,255)"/>
<circle cx="138.60" cy="73.86" r="0.85" fill="rgb(0,0,255)" stroke="rgb(0,0,255)"/>
<circle cx="172.23" cy="140.00" r="0.85" fill="rgb(225,225,255)" stroke="rgb(225,225,255)"/>
<circle cx="170.78" cy="74.24" r="0.85" fill="rgb(255,245,245)" stroke="rgb(255,245,245)"/>
<circle cx="166.96" cy="202.50" r="0.85" fill="rgb(255,244,244)" stroke="rgb(255,244,244)"/>
<circle cx="173.70" cy="141.23" r="0.85" fill="rgb(246,246,255)" stroke="rgb(246,246,255)"/>
<circle cx="141.75" cy="104.54" r="0.85" fill="rgb(255,116,116)" stroke="rgb(255,116,116)"/>
<circle cx="147.69" cy="223.52" r="0.85" fill="rgb(187,187,255)" stroke="rgb(187,187,255)"/>
<circle cx="161.97" cy="121.25" r="0.85" fill="rgb(255,182,182)" stroke="rgb(255,182,182)"/>
<circle cx="177.33" cy="157.04" r="0.85" fill="rgb(243,243,255)" stroke="rgb(243,243,255)"/>
<circle cx="165.51" cy="186.48" r="0.85" fill="rgb(212,212,255)" stroke="rgb(212,212,255)"/>
<circle cx="189.55" cy="122.63" r="0.85" fill="rgb(108,108,255)" stroke="rgb(108,108,255)"/>
<circle cx="158.83" cy="204.36" r="0.85" fill="rgb(255,146,146)" stroke="rgb(255,146,146)"/>
<circle cx="166.12" cy="136.29" r="0.85" fill="rgb(167,167,255)" stroke="rgb(167,167,255)"/>
<circle cx="166.15" cy="56.82" r="0.85" fill="rgb(187,187,255)" stroke="rgb(187,187,255)"/>
<circle cx="188.96" cy="171.13" r="0.85" fill="rgb(193,193,255)" stroke="rgb(193,193,255)"/>
<circle cx="182.73" cy="136.66" r="0.85" fill="rgb(255,180,180)" stroke="rgb(255,180,180)"/>
<circle cx="163.44" cy="71.52" r="0.85" fill="rgb(205,205,255)" stroke="rgb(205,205,255)"/>
<circle cx="129.04" cy="171.57" r="0.85" fill="rgb(255,41,41)" stroke="rgb(255,41,41)"/>
<circle cx="227.79" cy="189.44" r="0.85" fill="rgb(255,68,68)" stroke="rgb(255,68,68)"/>
<circle cx="209.24" cy="121.59" r="0.85" fill="rgb(59,59,255)" stroke="rgb(59,59,255)"/>
<circle cx="153.28" cy="156.18" r="0.85" fill="rgb(141,141,255)" stroke="rgb(141,141,255)"/>
<circle cx="155.04" cy="90.40" r="0.85" fill="rgb(140,140,255)" stroke="rgb(140,140,255)"/>
<circle cx="188.86" cy="207.72" r="0.85" fill="rgb(159,159,255)" stroke="rgb(159,159,255)"/>
<circle cx="152.73" cy="120.68" r="0.85" fill="rgb(255,195,195)" stroke="rgb(255,195,195)"/>
<circle cx="157.93" cy="172.98" r="0.85" fill="rgb(255,190,190)" stroke="rgb(255,190,190)"/>
<circle cx="171.21" cy="104.77" r="0.85" fill="rgb(216,216,255)" stroke="rgb(216,216,255)"/>
<circle cx="181.93" cy="170.41" r="0.85" fill="rgb(190,190,255)" stroke="rgb(190,190,255)"/>
<circle cx="160.34" cy="90.93" r="0.85" fill="rgb(142,142,255)" stroke="rgb(142,142,255)"/>
<circle cx="181.87" cy="191.09" r="0.85" fill="rgb(255,247,247)" stroke="rgb(255,247,247)"/>
<circle cx="204.36" cy="105.27" r="0.85" fill="rgb(32,32,255)" stroke="rgb(32,32,255)"/>
<circle cx="175.20" cy="186.71" r="0.85" fill="rgb(255,217,217)" stroke="rgb(255,217,217)"/>
<circle cx="144.23" cy="219.53" r="0.85" fill="rgb(124,124,255)" stroke="rgb(124,124,255)"/>
<circle cx="119.69" cy="172.50" r="0.85" fill="rgb(255,0,0)" stroke="rgb(255,0,0)"/>
<circle cx="156.77" cy="71.04" r="0.85" fill="rgb(121,121,255)" stroke="rgb(121,121,255)"/>
<circle cx="180.01" cy="120.64" r="0.85" fill="rgb(173,173,255)" stroke="rgb(173,173,255)"/>
<circle cx="205.34" cy="204.16" r="0.85" fill="rgb(140,140,255)" stroke="rgb(140,140,255)"/>
<circle cx="141.04" cy="107.27" r="0.85" fill="rgb(255,111,111)" stroke="rgb(255,111,111)"/>
<circle cx="185.94" cy="92.02" r="0.85" fill="rgb(255,155,155)" stroke="rgb(255,155,155)"/>
<circle cx="170.21" cy="121.83" r="0.85" fill="rgb(240,240,255)" stroke="rgb(240,240,255)"/>
<circle cx="176.29" cy="89.82" r="0.85" fill="rgb(255,192,192)" stroke="rgb(255,192,192)"/>
<circle cx="179.62" cy="204.64" r="0.85" fill="rgb(206,206,255)" stroke="rgb(206,206,255)"/>
<circle cx="168.17" cy="204.96" r="0.85" fill="rgb(255,232,232)" stroke="rgb(255,232,232)"/>
<circle cx="147.56" cy="156.97" r="0.85" fill="rgb(226,226,255)" stroke="rgb(226,226,255)"/>
<circle cx="131.08" cy="157.53" r="0.85" fill="rgb(109,109,255)" stroke="rgb(109,109,255)"/>
<circle cx="194.36" cy="207.22" r="0.85" fill="rgb(117,117,255)" stroke="rgb(117,117,255)"/>
<circle cx="150.14" cy="201.87" r="0.85" fill="rgb(255,137,137)" stroke="rgb(255,137,137)"/>
<circle cx="157.11" cy="171.83" r="0.85" fill="rgb(255,138,138)" stroke="rgb(255,138,138)"/>
<circle cx="170.91" cy="69.48" r="0.85" fill="rgb(209,209,255)" stroke="rgb(209,209,255)"/>
<circle cx="156.96" cy="137.20" r="0.85" fill="rgb(206,206,255)" stroke="rgb(206,206,255)"/>
<circle cx="152.51" cy="205.82" r="0.85" fill="rgb(255,186,186)" stroke="rgb(255,186,186)"/>
<circle cx="155.18" cy="55.23" r="0.85" fill="rgb(104,104,255)" stroke="rgb(104,104,255)"/>
<circle cx="157.08" cy="56.89" r="0.85" fill="rgb(150,150,255)" stroke="rgb(150,150,255)"/>
<circle cx="171.40" cy="204.00" r="0.85" fill="rgb(255,199,199)" stroke="rgb(255,199,199)"/>
<circle cx="183.73" cy="40.85" r="0.85" fill="rgb(161,161,255)" stroke="rgb(161,161,255)"/>
<circle cx="168.78" cy="153.59" r="0.85" fill="rgb(235,235,255)" stroke="rgb(235,235,255)"/>
<circle cx="190.87" cy="140.89" r="0.85" fill="rgb(255,60,60)" stroke="rgb(255,60,60)"/>
<circle cx="219.51" cy="221.42" r="0.85" fill="rgb(255,108,108)" stroke="rgb(255,108,108)"/>
<circle cx="186.60" cy="191.53" r="0.85" fill="rgb(255,190,190)" stroke="rgb(255,190,190)"/>
<circle cx="206.64" cy="87.32" r="0.85" fill="rgb(255,101,101)" stroke="rgb(255,101,101)"/>
<circle cx="178.59" cy="106.84" r="0.85" fill="rgb(255,239,239)" stroke="rgb(255,239,239)"/>
<circle cx="198.86" cy="190.77" r="0.85" fill="rgb(255,187,187)" stroke="rgb(255,187,187)"/>
<circle cx="194.05" cy="206.23" r="0.85" fill="rgb(236,236,255)" stroke="rgb(236,236,255)"/>
<circle cx="163.92" cy="170.41" r="0.85" fill="rgb(255,244,244)" stroke="rgb(255,244,244)"/>
<circle cx="170.03" cy="70.44" r="0.85" fill="rgb(212,212,255)" stroke="rgb(212,212,255)"/>
<circle cx="143.57" cy="219.41" r="0.85" fill="rgb(178,178,255)" stroke="rgb(178,178,255)"/>
<circle cx="185.97" cy="59.24" r="0.85" fill="rgb(255,96,96)" stroke="rgb(255,96,96)"/>
<circle cx="177.13" cy="89.80" r="0.85" fill="rgb(249,249,255)" stroke="rgb(249,249,255)"/>
<circle cx="175.59" cy="54.49" r="0.85" fill="rgb(255,236,236)" stroke="rgb(255,236,236)"/>
<circle cx="162.94" cy="40.53" r="0.85" fill="rgb(255,187,187)" stroke="rgb(255,187,187)"/>
<circle cx="172.08" cy="40.95" r="0.85" fill="rgb(233,233,255)" stroke="rgb(233,233,255)"/>
<circle cx="157.77" cy="153.91" r="0.85" fill="rgb(177,177,255)" stroke="rgb(177,177,255)"/>
<circle cx="226.69" cy="188.65" r="0.85" fill="rgb(255,61,61)" stroke="rgb(255,61,61)"/>
<circle cx="228.19" cy="206.44" r="0.85" fill="rgb(81,81,255)" stroke="rgb(81,81,255)"/>
<circle cx="175.84" cy="56.21" r="0.85" fill="rgb(255,184,184)" stroke="rgb(255,184,184)"/>
<circle cx="192.80" cy="157.53" r="0.85" fill="rgb(255,195,195)" stroke="rgb(255,195,195)"/>
<circle cx="135.57" cy="141.46" r="0.85" fill="rgb(50,50,255)" stroke="rgb(50,50,255)"/>
<circle cx="188.34" cy="54.14" r="0.85" fill="rgb(255,191,191)" stroke="rgb(255,191,191)"/>
<circle cx="195.53" cy="172.59" r="0.85" fill="rgb(176,176,255)" stroke="rgb(176,176,255)"/>
<circle cx="143.31" cy="186.83" r="0.85" fill="rgb(124,124,255)" stroke="rgb(124,124,255)"/>
<circle cx="179.53" cy="87.14" r="0.85" fill="rgb(255,220,220)" stroke="rgb(255,220,220)"/>
<circle cx="171.57" cy="169.82" r="0.85" fill="rgb(252,252,255)" stroke="rgb(252,252,255)"/>
<circle cx="170.59" cy="37.92" r="0.85" fill="rgb(225,225,255)" stroke="rgb(225,225,255)"/>
<circle cx="168.94" cy="140.82" r="0.85" fill="rgb(247,247,255)" stroke="rgb(247,247,255)"/>
<circle cx="186.81" cy="141.42" r="0.85" fill="rgb(255,124,124)" stroke="rgb(255,124,124)"/>
<circle cx="181.20" cy="104.26" r="0.85" fill="rgb(210,210,255)" stroke="rgb(210,210,255)"/>
<circle cx="172.38" cy="155.24" r="0.85" fill="rgb(255,183,183)" stroke="rgb(255,183,183)"/>
<circle cx="152.83" cy="207.87" r="0.85" fill="rgb(255,190,190)" stroke="rgb(255,190,190)"/>
<circle cx="159.88" cy="91.94" r="0.85" fill="rgb(148,148,255)" stroke="rgb(148,148,255)"/>
<circle cx="191.20" cy="171.29" r="0.85" fill="rgb(167,167,255)" stroke="rgb(167,167,255)"/>
<circle cx="152.35" cy="69.61" r="0.85" fill="rgb(86,86,255)" stroke="rgb(86,86,255)"/>
<circle cx="205.34" cy="170.52" r="0.85" fill="rgb(9,9,255)" stroke="rgb(9,9,255)"/>
<circle cx="174.04" cy="121.44" r="0.85" fill="rgb(246,246,255)" stroke="rgb(246,246,255)"/>
<circle cx="158.10" cy="204.87" r="0.85" fill="rgb(255,222,222)" stroke="rgb(255,222,222)"/>
<circle cx="158.79" cy="54.15" r="0.85" fill="rgb(110,110,255)" stroke="rgb(110,110,255)"/>
<circle cx="184.98" cy="153.41" r="0.85" fill="rgb(255,241,241)" stroke="rgb(255,241,241)"/>
<circle cx="171.21" cy="40.27" r="0.85" fill="rgb(255,197,197)" stroke="rgb(255,197,197)"/>
<circle cx="172.91" cy="219.75" r="0.85" fill="rgb(255,192,192)" stroke="rgb(255,192,192)"/>
<circle cx="216.95" cy="172.76" r="0.85" fill="rgb(36,36,255)" stroke="rgb(36,36,255)"/>
<circle cx="150.76" cy="89.56" r="0.85" fill="rgb(55,55,255)" stroke="rgb(55,55,255)"/>
<circle cx="179.81" cy="70.29" r="0.85" fill="rgb(255,224,224)" stroke="rgb(255,224,224)"/>
<circle cx="186.91" cy="137.91" r="0.85" fill="rgb(255,166,166)" stroke="rgb(255,166,166)"/>
<circle cx="212.31" cy="185.72" r="0.85" fill="rgb(255,80,80)" stroke="rgb(255,80,80)"/>
<circle cx="146.98" cy="56.01" r="0.85" fill="rgb(89,89,255)" stroke="rgb(89,89,255)"/>
<circle cx="113.02" cy="221.04" r="0.85" fill="rgb(92,92,255)" stroke="rgb(92,92,255)"/>
<circle cx="151.38" cy="72.00" r="0.85" fill="rgb(76,76,255)" stroke="rgb(76,76,255)"/>
<circle cx="168.10" cy="41.62" r="0.85" fill="rgb(255,211,211)" stroke="rgb(255,211,211)"/>
<circle cx="171.36" cy="140.47" r="0.85" fill="rgb(221,221,255)" stroke="rgb(221,221,255)"/>
<circle cx="211.67" cy="190.59" r="0.85" fill="rgb(255,65,65)" stroke="rgb(255,65,65)"/>
<circle cx="180.78" cy="223.67" r="0.85" fill="rgb(255,203,203)" stroke="rgb(255,203,203)"/>
<circle cx="198.64" cy="204.27" r="0.85" fill="rgb(255,245,245)" stroke="rgb(255,245,245)"/>
<circle cx="185.87" cy="157.88" r="0.85" fill="rgb(255,144,144)" stroke="rgb(255,144,144)"/>
<circle cx="152.37" cy="124.38" r="0.85" fill="rgb(255,67,67)" stroke="rgb(255,67,67)"/>
<circle cx="199.88" cy="173.47" r="0.85" fill="rgb(141,141,255)" stroke="rgb(141,141,255)"/>
<circle cx="165.10" cy="36.82" r="0.85" fill="rgb(255,193,193)" stroke="rgb(255,193,193)"/>
<circle cx="179.43" cy="55.54" r="0.85" fill="rgb(255,196,196)" stroke="rgb(255,196,196)"/>
<circle cx="149.35" cy="86.65" r="0.85" fill="rgb(59,59,255)" stroke="rgb(59,59,255)"/>
<circle cx="145.85" cy="154.05" r="0.85" fill="rgb(170,170,255)" stroke="rgb(170,170,255)"/>
<circle cx="209.24" cy="154.18" r="0.85" fill="rgb(255,84,84)" stroke="rgb(255,84,84)"/>
<circle cx="171.28" cy="105.47" r="0.85" fill="rgb(255,247,247)" stroke="rgb(255,247,247)"/>
<circle cx="187.09" cy="173.90" r="0.85" fill="rgb(216,216,255)" stroke="rgb(216,216,255)"/>
<circle cx="185.10" cy="56.57" r="0.85" fill="rgb(255,126,126)" stroke="rgb(255,126,126)"/>
<circle cx="191.79" cy="123.86" r="0.85" fill="rgb(163,163,255)" stroke="rgb(163,163,255)"/>
<circle cx="153.39" cy="155.63" r="0.85" fill="rgb(165,165,255)" stroke="rgb(165,165,255)"/>
<circle cx="170.03" cy="70.59" r="0.85" fill="rgb(238,238,255)" stroke="rgb(238,238,255)"/>
<circle cx="165.25" cy="188.38" r="0.85" fill="rgb(206,206,255)" stroke="rgb(206,206,255)"/>
<circle cx="168.10" cy="38.22" r="0.85" fill="rgb(255,203,203)" stroke="rgb(255,203,203)"/>
<circle cx="133.81" cy="188.88" r="0.85" fill="rgb(113,113,255)" stroke="rgb(113,113,255)"/>
<circle cx="194.57" cy="104.82" r="0.85" fill="rgb(114,114,255)" stroke="rgb(114,114,255)"/>
<circle cx="159.26" cy="135.83" r="0.85" fill="rgb(210,210,255)" stroke="rgb(210,210,255)"/>
<circle cx="178.39" cy="38.39" r="0.85" fill="rgb(141,141,255)" stroke="rgb(141,141,255)"/>
<circle cx="148.66" cy="57.88" r="0.85" fill="rgb(104,104,255)" stroke="rgb(104,104,255)"/>
<circle cx="176.00" cy="55.70" r="0.85" fill="rgb(255,126,126)" stroke="rgb(255,126,126)"/>
<circle cx="183.44" cy="136.53" r="0.85" fill="rgb(255,183,183)" stroke="rgb(255,183,183)"/>
<circle cx="214.88" cy="202.37" r="0.85" fill="rgb(121,121,255)" stroke="rgb(121,121,255)"/>
<circle cx="177.75" cy="88.47" r="0.85" fill="rgb(255,204,204)" stroke="rgb(255,204,204)"/>
<circle cx="169.91" cy="119.56" r="0.85" fill="rgb(253,253,255)" stroke="rgb(253,253,255)"/>
<circle cx="196.36" cy="53.21" r="0.85" fill="rgb(255,64,64)" stroke="rgb(255,64,64)"/>
<circle cx="159.96" cy="120.70" r="0.85" fill="rgb(255,204,204)" stroke="rgb(255,204,204)"/>
<circle cx="201.31" cy="70.33" r="0.85" fill="rgb(255,47,47)" stroke="rgb(255,47,47)"/>
<circle cx="183.21" cy="58.54" r="0.85" fill="rgb(255,177,177)" stroke="rgb(255,177,177)"/>
<circle cx="169.16" cy="91.21" r="0.85" fill="rgb(194,194,255)" stroke="rgb(194,194,255)"/>
<circle cx="177.89" cy="105.44" r="0.85" fill="rgb(210,210,255)" stroke="rgb(210,210,255)"/>
<circle cx="176.38" cy="203.26" r="0.85" fill="rgb(254,254,255)" stroke="rgb(254,254,255)"/>
<circle cx="177.20" cy="41.77" r="0.85" fill="rgb(211,211,255)" stroke="rgb(211,211,255)"/>
<circle cx="160.57" cy="121.38" r="0.85" fill="rgb(255,174,174)" stroke="rgb(255,174,174)"/>
<circle cx="174.50" cy="202.57" r="0.85" fill="rgb(221,221,255)" stroke="rgb(221,221,255)"/>
<circle cx="169.58" cy="86.71" r="0.85" fill="rgb(233,233,255)" stroke="rgb(233,233,255)"/>
<circle cx="207.53" cy="154.23" r="0.85" fill="rgb(255,115,115)" stroke="rgb(255,115,115)"/>
<circle cx="190.50" cy="157.96" r="0.85" fill="rgb(255,191,191)" stroke="rgb(255,191,191)"/>
<circle cx="151.93" cy="157.27" r="0.85" fill="rgb(215,215,255)" stroke="rgb(215,215,255)"/>
<circle cx="148.83" cy="152.29" r="0.85" fill="rgb(98,98,255)" stroke="rgb(98,98,255)"/>
<circle cx="196.61" cy="55.78" r="0.85" fill="rgb(255,83,83)" stroke="rgb(255,83,83)"/>
<circle cx="206.58" cy="89.74" r="0.85" fill="rgb(255,91,91)" stroke="rgb(255,91,91)"/>
<circle cx="182.75" cy="91.52" r="0.85" fill="rgb(255,196,196)" stroke="rgb(255,196,196)"/>
<circle cx="141.71" cy="155.21" r="0.85" fill="rgb(169,169,255)" stroke="rgb(169,169,255)"/>
<circle cx="158.49" cy="122.36" r="0.85" fill="rgb(231,231,255)" stroke="rgb(231,231,255)"/>
<circle cx="129.13" cy="189.66" r="0.85" fill="rgb(83,83,255)" stroke="rgb(83,83,255)"/>
<circle cx="153.56" cy="87.77" r="0.85" fill="rgb(23,23,255)" stroke="rgb(23,23,255)"/>
<circle cx="136.52" cy="204.93" r="0.85" fill="rgb(255,89,89)" stroke="rgb(255,89,89)"/>
<circle cx="161.66" cy="73.31" r="0.85" fill="rgb(216,216,255)" stroke="rgb(216,216,255)"/>
<circle cx="199.75" cy="208.14" r="0.85" fill="rgb(58,58,255)" stroke="rgb(58,58,255)"/>
<circle cx="142.06" cy="207.42" r="0.85" fill="rgb(255,34,34)" stroke="rgb(255,34,34)"/>
<circle cx="144.99" cy="106.41" r="0.85" fill="rgb(255,56,56)" stroke="rgb(255,56,56)"/>
<circle cx="180.50" cy="105.97" r="0.85" fill="rgb(215,215,255)" stroke="rgb(215,215,255)"/>
<circle cx="158.13" cy="104.34" r="0.85" fill="rgb(255,80,80)" stroke="rgb(255,80,80)"/>
<circle cx="149.62" cy="108.18" r="0.85" fill="rgb(255,125,125)" stroke="rgb(255,125,125)"/>
<circle cx="148.78" cy="90.86" r="0.85" fill="rgb(60,60,255)" stroke="rgb(60,60,255)"/>
<circle cx="180.67" cy="41.95" r="0.85" fill="rgb(160,160,255)" stroke="rgb(160,160,255)"/>
<circle cx="209.34" cy="190.30" r="0.85" fill="rgb(255,84,84)" stroke="rgb(255,84,84)"/>
<circle cx="183.20" cy="54.02" r="0.85" fill="rgb(255,169,169)" stroke="rgb(255,169,169)"/>
<circle cx="186.67" cy="73.85" r="0.85" fill="rgb(255,190,190)" stroke="rgb(255,190,190)"/>
<circle cx="146.19" cy="75.63" r="0.85" fill="rgb(78,78,255)" stroke="rgb(78,78,255)"/>
<circle cx="175.16" cy="71.35" r="0.85" fill="rgb(185,185,255)" stroke="rgb(185,185,255)"/>
<circle cx="167.84" cy="187.02" r="0.85" fill="rgb(248,248,255)" stroke="rgb(248,248,255)"/>
<circle cx="161.54" cy="38.68" r="0.85" fill="rgb(255,131,131)" stroke="rgb(255,131,131)"/>
<circle cx="185.94" cy="123.44" r="0.85" fill="rgb(235,235,255)" stroke="rgb(235,235,255)"/>
<circle cx="242.23" cy="224.01" r="0.85" fill="rgb(255,21,21)" stroke="rgb(255,21,21)"/>
<circle cx="192.69" cy="107.44" r="0.85" fill="rgb(83,83,255)" stroke="rgb(83,83,255)"/>
<circle cx="173.34" cy="140.04" r="0.85" fill="rgb(222,222,255)" stroke="rgb(222,222,255)"/>
<circle cx="136.28" cy="170.42" r="0.85" fill="rgb(255,100,100)" stroke="rgb(255,100,100)"/>
<circle cx="202.32" cy="203.96" r="0.85" fill="rgb(120,120,255)" stroke="rgb(120,120,255)"/>
<circle cx="167.12" cy="154.55" r="0.85" fill="rgb(189,189,255)" stroke="rgb(189,189,255)"/>
<circle cx="193.31" cy="169.34" r="0.85" fill="rgb(183,183,255)" stroke="rgb(183,183,255)"/>
<circle cx="207.54" cy="135.64" r="0.85" fill="rgb(255,3,3)" stroke="rgb(255,3,3)"/>
<circle cx="162.43" cy="42.31" r="0.85" fill="rgb(255,238,238)" stroke="rgb(255,238,238)"/>
<circle cx="172.17" cy="41.82" r="0.85" fill="rgb(255,231,231)" stroke="rgb(255,231,231)"/>
<circle cx="179.06" cy="37.14" r="0.85" fill="rgb(162,162,255)" stroke="rgb(162,162,255)"/>
<circle cx="199.08" cy="158.48" r="0.85" fill="rgb(255,93,93)" stroke="rgb(255,93,93)"/>
<circle cx="162.20" cy="39.08" r="0.85" fill="rgb(255,130,130)" stroke="rgb(255,130,130)"/>
<circle cx="175.25" cy="222.03" r="0.85" fill="rgb(255,146,146)" stroke="rgb(255,146,146)"/>
<circle cx="200.54" cy="70.87" r="0.85" fill="rgb(255,82,82)" stroke="rgb(255,82,82)"/>
<circle cx="191.86" cy="56.42" r="0.85" fill="rgb(255,2,2)" stroke="rgb(255,2,2)"/>
<circle cx="183.19" cy="189.28" r="0.85" fill="rgb(255,198,198)" stroke="rgb(255,198,198)"/>
<circle cx="152.29" cy="73.74" r="0.85" fill="rgb(39,39,255)" stroke="rgb(39,39,255)"/>
<circle cx="129.56" cy="203.54" r="0.85" fill="rgb(255,58,58)" stroke="rgb(255,58,58)"/>
<circle cx="234.58" cy="220.91" r="0.85" fill="rgb(255,85,85)" stroke="rgb(255,85,85)"/>
<circle cx="189.22" cy="55.61" r="0.85" fill="rgb(255,155,155)" stroke="rgb(255,155,155)"/>
<circle cx="183.60" cy="173.14" r="0.85" fill="rgb(171,171,255)" stroke="rgb(171,171,255)"/>
<circle cx="172.47" cy="153.81" r="0.85" fill="rgb(241,241,255)" stroke="rgb(241,241,255)"/>
<circle cx="174.56" cy="154.66" r="0.85" fill="rgb(255,224,224)" stroke="rgb(255,224,224)"/>
<circle cx="140.34" cy="156.86" r="0.85" fill="rgb(46,46,255)" stroke="rgb(46,46,255)"/>
<circle cx="153.51" cy="218.56" r="0.85" fill="rgb(194,194,255)" stroke="rgb(194,194,255)"/>
<circle cx="217.10" cy="153.24" r="0.85" fill="rgb(255,4,4)" stroke="rgb(255,4,4)"/>
<circle cx="198.58" cy="206.70" r="0.85" fill="rgb(188,188,255)" stroke="rgb(188,188,255)"/>
<circle cx="163.67" cy="89.42" r="0.85" fill="rgb(166,166,255)" stroke="rgb(166,166,255)"/>
<circle cx="154.56" cy="158.30" r="0.85" fill="rgb(207,207,255)" stroke="rgb(207,207,255)"/>
<circle cx="161.99" cy="204.54" r="0.85" fill="rgb(255,167,167)" stroke="rgb(255,167,167)"/>
<circle cx="167.84" cy="74.41" r="0.85" fill="rgb(216,216,255)" stroke="rgb(216,216,255)"/>
<circle cx="158.29" cy="173.70" r="0.85" fill="rgb(255,197,197)" stroke="rgb(255,197,197)"/>
<circle cx="151.24" cy="86.14" r="0.85" fill="rgb(118,118,255)" stroke="rgb(118,118,255)"/>
<circle cx="153.30" cy="187.11" r="0.85" fill="rgb(197,197,255)" stroke="rgb(197,197,255)"/>
<circle cx="183.01" cy="218.97" r="0.85" fill="rgb(255,242,242)" stroke="rgb(255,242,242)"/>
<circle cx="197.50" cy="207.56" r="0.85" fill="rgb(191,191,255)" stroke="rgb(191,191,255)"/>
<circle cx="172.73" cy="41.57" r="0.85" fill="rgb(255,200,200)" stroke="rgb(255,200,200)"/>
<circle cx="184.81" cy="139.66" r="0.85" fill="rgb(255,138,138)" stroke="rgb(255,138,138)"/>
<circle cx="151.58" cy="72.03" r="0.85" fill="rgb(131,131,255)" stroke="rgb(131,131,255)"/>
<circle cx="160.31" cy="39.23" r="0.85" fill="rgb(255,89,89)" stroke="rgb(255,89,89)"/>
<circle cx="203.39" cy="170.86" r="0.85" fill="rgb(151,151,255)" stroke="rgb(151,151,255)"/>
<circle cx="142.42" cy="205.45" r="0.85" fill="rgb(255,151,151)" stroke="rgb(255,151,151)"/>
<circle cx="131.18" cy="153.14" r="0.85" fill="rgb(91,91,255)" stroke="rgb(91,91,255)"/>
<circle cx="146.02" cy="120.82" r="0.85" fill="rgb(255,56,56)" stroke="rgb(255,56,56)"/>
<circle cx="217.15" cy="172.22" r="0.85" fill="rgb(17,17,255)" stroke="rgb(17,17,255)"/>
<circle cx="206.07" cy="141.51" r="0.85" fill="rgb(255,84,84)" stroke="rgb(255,84,84)"/>
<circle cx="185.00" cy="121.85" r="0.85" fill="rgb(231,231,255)" stroke="rgb(231,231,255)"/>
<circle cx="149.36" cy="188.77" r="0.85" fill="rgb(101,101,255)" stroke="rgb(101,101,255)"/>
<circle cx="167.05" cy="39.75" r="0.85" fill="rgb(255,147,147)" stroke="rgb(255,147,147)"/>
<circle cx="154.97" cy="107.27" r="0.85" fill="rgb(255,104,104)" stroke="rgb(255,104,104)"/>
<circle cx="174.46" cy="140.87" r="0.85" fill="rgb(209,209,255)" stroke="rgb(209,209,255)"/>
<circle cx="188.85" cy="138.31" r="0.85" fill="rgb(255,139,139)" stroke="rgb(255,139,139)"/>
<circle cx="196.29" cy="123.68" r="0.85" fill="rgb(118,118,255)" stroke="rgb(118,118,255)"/>
<circle cx="189.36" cy="174.60" r="0.85" fill="rgb(238,238,255)" stroke="rgb(238,238,255)"/>
<circle cx="210.11" cy="119.39" r="0.85" fill="rgb(10,10,255)" stroke="rgb(10,10,255)"/>
<circle cx="161.23" cy="37.89" r="0.85" fill="rgb(255,139,139)" stroke="rgb(255,139,139)"/>
<circle cx="207.24" cy="91.68" r="0.85" fill="rgb(255,51,51)" stroke="rgb(255,51,51)"/>
<circle cx="175.37" cy="173.04" r="0.85" fill="rgb(251,251,255)" stroke="rgb(251,251,255)"/>
<circle cx="201.92" cy="221.81" r="0.85" fill="rgb(255,135,135)" stroke="rgb(255,135,135)"/>
<circle cx="161.84" cy="86.27" r="0.85" fill="rgb(128,128,255)" stroke="rgb(128,128,255)"/>
<circle cx="214.08" cy="190.78" r="0.85" fill="rgb(255,141,141)" stroke="rgb(255,141,141)"/>
<circle cx="202.02" cy="103.17" r="0.85" fill="rgb(14,14,255)" stroke="rgb(14,14,255)"/>
<circle cx="179.38" cy="91.10" r="0.85" fill="rgb(255,226,226)" stroke="rgb(255,226,226)"/>
<circle cx="204.95" cy="220.48" r="0.85" fill="rgb(255,114,114)" stroke="rgb(255,114,114)"/>
<circle cx="200.44" cy="88.57" r="0.85" fill="rgb(255,57,57)" stroke="rgb(255,57,57)"/>
<circle cx="186.50" cy="59.01" r="0.85" fill="rgb(255,153,153)" stroke="rgb(255,153,153)"/>
<circle cx="159.34" cy="122.33" r="0.85" fill="rgb(255,130,130)" stroke="rgb(255,130,130)"/>
<circle cx="197.41" cy="168.89" r="0.85" fill="rgb(119,119,255)" stroke="rgb(119,119,255)"/>
<circle cx="205.56" cy="123.84" r="0.85" fill="rgb(117,117,255)" stroke="rgb(117,117,255)"/>
<circle cx="155.40" cy="106.63" r="0.85" fill="rgb(255,168,168)" stroke="rgb(255,168,168)"/>
<circle cx="153.90" cy="70.23" r="0.85" fill="rgb(77,77,255)" stroke="rgb(77,77,255)"/>
<circle cx="185.34" cy="120.08" r="0.85" fill="rgb(196,196,255)" stroke="rgb(196,196,255)"/>
<circle cx="165.72" cy="73.01" r="0.85" fill="rgb(139,139,255)" stroke="rgb(139,139,255)"/>
<circle cx="138.80" cy="137.72" r="0.85" fill="rgb(58,58,255)" stroke="rgb(58,58,255)"/>
<circle cx="170.35" cy="221.35" r="0.85" fill="rgb(225,225,255)" stroke="rgb(225,225,255)"/>
<circle cx="182.75" cy="140.57" r="0.85" fill="rgb(255,207,207)" stroke="rgb(255,207,207)"/>
<circle cx="212.23" cy="173.72" r="0.85" fill="rgb(111,111,255)" stroke="rgb(111,111,255)"/>
<circle cx="197.05" cy="122.01" r="0.85" fill="rgb(151,151,255)" stroke="rgb(151,151,255)"/>
</g>
<line x1="70.60" y1="27.20" x2="70.60" y2="234.40" stroke="#5a5a5a" stroke-width="0.8"/>
<line x1="70.20" y1="234.00" x2="290.70" y2="234.00" stroke="#5a5a5a" stroke-width="0.8"/>
<line x1="70.60" y1="39.50" x2="72.60" y2="39.50" stroke="#5a5a5a" stroke-width="0.6"/>
<line x1="70.60" y1="56.05" x2="72.60" y2="56.05" stroke="#5a5a5a" stroke-width="0.6"/>
<line x1="70.60" y1="72.60" x2="72.60" y2="72.60" stroke="#5a5a5a" stroke-width="0.6"/>
<line x1="70.60" y1="89.15" x2="72.60" y2="89.15" stroke="#5a5a5a" stroke-width="0.6"/>
<line x1="70.60" y1="105.70" x2="72.60" y2="105.70" stroke="#5a5a5a" stroke-width="0.6"/>
<line x1="70.60" y1="122.25" x2="72.60" y2="122.25" stroke="#5a5a5a" stroke-width="0.6"/>
<line x1="70.60" y1="138.80" x2="72.60" y2="138.80" stroke="#5a5a5a" stroke-width="0.6"/>
<line x1="70.60" y1="155.35" x2="72.60" y2="155.35" stroke="#5a5a5a" stroke-width="0.6"/>
<line x1="70.60" y1="171.90" x2="72.60" y2="171.90" stroke="#5a5a5a" stroke-width="0.6"/>
<line x1="70.60" y1="188.45" x2="72.60" y2="188.45" stroke="#5a5a5a" stroke-width="0.6"/>
<line x1="70.60" y1="205.00" x2="72.60" y2="205.00" stroke="#5a5a5a" stroke-width="0.6"/>
<line x1="70.60" y1="221.55" x2="72.60" y2="221.55" stroke="#5a5a5a" stroke-width="0.6"/>
<line x1="90.10" y1="234.00" x2="90.10" y2="232.20" stroke="#5a5a5a" stroke-width="0.6"/>
<line x1="131.20" y1="234.00" x2="131.20" y2="232.20" stroke="#5a5a5a" stroke-width="0.6"/>
<line x1="172.30" y1="234.00" x2="172.30" y2="232.20" stroke="#5a5a5a" stroke-width="0.6"/>
<line x1="213.40" y1="234.00" x2="213.40" y2="232.20" stroke="#5a5a5a" stroke-width="0.6"/>
<line x1="254.50" y1="234.00" x2="254.50" y2="232.20" stroke="#5a5a5a" stroke-width="0.6"/>
<text x="14.76" y="41.90" font-size="5.39" textLength="54.39" lengthAdjust="spacingAndGlyphs" fill="#1a1a1a" stroke="#1a1a1a" stroke-width="0.08">CD4 T activation score</text>
<text x="0.61" y="58.45" font-size="5.39" textLength="68.33" lengthAdjust="spacingAndGlyphs" fill="#1a1a1a" stroke="#1a1a1a" stroke-width="0.08">Platelet/Coagulation ssGSEA</text>
<text x="31.30" y="75.00" font-size="5.39" textLength="38.01" lengthAdjust="spacingAndGlyphs" fill="#1a1a1a" stroke="#1a1a1a" stroke-width="0.08">IL-1RA (plasma)</text>
<text x="19.52" y="91.55" font-size="5.39" textLength="49.79" lengthAdjust="spacingAndGlyphs" fill="#1a1a1a" stroke="#1a1a1a" stroke-width="0.08">Neutrophil % (blood)</text>
<text x="13.55" y="108.10" font-size="5.39" textLength="55.39" lengthAdjust="spacingAndGlyphs" fill="#1a1a1a" stroke="#1a1a1a" stroke-width="0.08">IFN-γ response ssGSEA</text>
<text x="15.45" y="124.65" font-size="5.39" textLength="53.86" lengthAdjust="spacingAndGlyphs" fill="#1a1a1a" stroke="#1a1a1a" stroke-width="0.08">Lymphocyte % (blood)</text>
<text x="20.96" y="141.20" font-size="5.39" textLength="47.98" lengthAdjust="spacingAndGlyphs" fill="#1a1a1a" stroke="#1a1a1a" stroke-width="0.08">TNFα/NF-κB ssGSEA</text>
<text x="23.29" y="157.75" font-size="5.39" textLength="45.65" lengthAdjust="spacingAndGlyphs" fill="#1a1a1a" stroke="#1a1a1a" stroke-width="0.08">AP-1/MAPK ssGSEA</text>
<text x="29.52" y="174.30" font-size="5.39" textLength="39.49" lengthAdjust="spacingAndGlyphs" fill="#1a1a1a" stroke="#1a1a1a" stroke-width="0.08">CD8 T cell count</text>
<text x="36.95" y="190.85" font-size="5.39" textLength="32.36" lengthAdjust="spacingAndGlyphs" fill="#1a1a1a" stroke="#1a1a1a" stroke-width="0.08">CRP (plasma)</text>
<text x="13.23" y="207.40" font-size="5.39" textLength="55.72" lengthAdjust="spacingAndGlyphs" fill="#1a1a1a" stroke="#1a1a1a" stroke-width="0.08">IFN-α response ssGSEA</text>
<text x="37.74" y="223.95" font-size="5.39" textLength="31.57" lengthAdjust="spacingAndGlyphs" fill="#1a1a1a" stroke="#1a1a1a" stroke-width="0.08">IL-6 (plasma)</text>
<text x="85.96" y="240.90" font-size="7.02" textLength="8.26" lengthAdjust="spacingAndGlyphs" fill="#1a1a1a" >−2</text>
<text x="127.03" y="240.90" font-size="7.02" textLength="8.26" lengthAdjust="spacingAndGlyphs" fill="#1a1a1a" >−1</text>
<text x="170.52" y="240.90" font-size="7.02" textLength="3.56" lengthAdjust="spacingAndGlyphs" fill="#1a1a1a" >0</text>
<text x="211.57" y="240.90" font-size="7.02" textLength="3.56" lengthAdjust="spacingAndGlyphs" fill="#1a1a1a" >1</text>
<text x="252.79" y="240.90" font-size="7.02" textLength="3.56" lengthAdjust="spacingAndGlyphs" fill="#1a1a1a" >2</text>
<text x="120.15" y="248.80" font-size="5.96" textLength="121.83" lengthAdjust="spacingAndGlyphs" fill="#1a1a1a" >SHAP value (impact on log-odds of COVID-19)</text>
<text x="81.17" y="24.70" font-size="6.53" textLength="199.02" lengthAdjust="spacingAndGlyphs" fill="#1a1a1a" >COVID-19 vs. influenza classifier — classic red/blue by feature value</text>
<defs><linearGradient id="cb" x1="0" y1="0" x2="0" y2="1"><stop offset="0" stop-color="#ff0000"/><stop offset="0.5" stop-color="#ffffff"/><stop offset="1" stop-color="#0000ff"/></linearGradient></defs>
<rect x="293.4" y="27.3" width="11.20" height="206.70" fill="url(#cb)" stroke="#5a5a5a" stroke-width="0.6"/>
<line x1="302.80" y1="27.30" x2="304.60" y2="27.30" stroke="#5a5a5a" stroke-width="0.6"/>
<text x="305.66" y="30.00" font-size="6.72" textLength="9.54" lengthAdjust="spacingAndGlyphs" fill="#1a1a1a" >2.0</text>
<line x1="302.80" y1="53.14" x2="304.60" y2="53.14" stroke="#5a5a5a" stroke-width="0.6"/>
<text x="305.44" y="55.84" font-size="6.72" textLength="9.54" lengthAdjust="spacingAndGlyphs" fill="#1a1a1a" >1.5</text>
<line x1="302.80" y1="78.97" x2="304.60" y2="78.97" stroke="#5a5a5a" stroke-width="0.6"/>
<text x="305.44" y="81.67" font-size="6.72" textLength="9.54" lengthAdjust="spacingAndGlyphs" fill="#1a1a1a" >1.0</text>
<line x1="302.80" y1="104.81" x2="304.60" y2="104.81" stroke="#5a5a5a" stroke-width="0.6"/>
<text x="305.70" y="107.51" font-size="6.72" textLength="9.54" lengthAdjust="spacingAndGlyphs" fill="#1a1a1a" >0.5</text>
<line x1="302.80" y1="130.65" x2="304.60" y2="130.65" stroke="#5a5a5a" stroke-width="0.6"/>
<text x="305.70" y="133.35" font-size="6.72" textLength="9.54" lengthAdjust="spacingAndGlyphs" fill="#1a1a1a" >0.0</text>
<line x1="302.80" y1="156.49" x2="304.60" y2="156.49" stroke="#5a5a5a" stroke-width="0.6"/>
<text x="305.46" y="159.19" font-size="6.72" textLength="14.57" lengthAdjust="spacingAndGlyphs" fill="#1a1a1a" >−0.5</text>
<line x1="302.80" y1="182.32" x2="304.60" y2="182.32" stroke="#5a5a5a" stroke-width="0.6"/>
<text x="305.46" y="185.02" font-size="6.72" textLength="14.57" lengthAdjust="spacingAndGlyphs" fill="#1a1a1a" >−1.0</text>
<line x1="302.80" y1="208.16" x2="304.60" y2="208.16" stroke="#5a5a5a" stroke-width="0.6"/>
<text x="305.46" y="210.86" font-size="6.72" textLength="14.57" lengthAdjust="spacingAndGlyphs" fill="#1a1a1a" >−1.5</text>
<line x1="302.80" y1="234.00" x2="304.60" y2="234.00" stroke="#5a5a5a" stroke-width="0.6"/>
<text x="305.46" y="236.70" font-size="6.72" textLength="14.57" lengthAdjust="spacingAndGlyphs" fill="#1a1a1a" >−2.0</text>
<text x="-42.15" y="0" transform="translate(326.20,130.60) rotate(-90)" font-size="5.39" textLength="84.25" lengthAdjust="spacingAndGlyphs" fill="#1a1a1a">Feature value (z-score): low → high</text>
<text x="11.4" y="11.5" font-family="Liberation Serif" font-weight="bold" font-size="16.6" fill="#000">a.</text>
<text x="369.7" y="11.6" font-family="Liberation Serif" font-weight="bold" font-size="16.6" fill="#000">b.</text>
<rect x="487.50" y="41.10" width="186.70" height="9.5" fill="#EB9F2C"/>
<rect x="487.50" y="55.48" width="148.00" height="9.5" fill="#EB9F2C"/>
<rect x="487.50" y="69.86" width="148.00" height="9.5" fill="#EB9F2C"/>
<rect x="487.50" y="84.24" width="136.50" height="9.5" fill="#EB9F2C"/>
<rect x="487.50" y="98.62" width="111.40" height="9.5" fill="#EB9F2C"/>
<rect x="487.50" y="113.00" width="92.70" height="9.5" fill="#EB9F2C"/>
<rect x="487.50" y="127.38" width="91.40" height="9.5" fill="#EB9F2C"/>
<rect x="487.50" y="141.76" width="84.60" height="9.5" fill="#EB9F2C"/>
<rect x="487.50" y="156.14" width="76.00" height="9.5" fill="#EB9F2C"/>
<rect x="487.50" y="170.52" width="73.60" height="9.5" fill="#EB9F2C"/>
<rect x="487.50" y="184.90" width="66.60" height="9.5" fill="#EB9F2C"/>
<rect x="487.50" y="199.28" width="56.00" height="9.5" fill="#EB9F2C"/>
<line x1="512.90" y1="33.60" x2="512.90" y2="217.20" stroke="#c8c8c8" stroke-opacity="0.6" stroke-width="0.55" stroke-dasharray="1.6 1.1"/>
<line x1="538.30" y1="33.60" x2="538.30" y2="217.20" stroke="#c8c8c8" stroke-opacity="0.6" stroke-width="0.55" stroke-dasharray="1.6 1.1"/>
<line x1="563.70" y1="33.60" x2="563.70" y2="217.20" stroke="#c8c8c8" stroke-opacity="0.6" stroke-width="0.55" stroke-dasharray="1.6 1.1"/>
<line x1="589.10" y1="33.60" x2="589.10" y2="217.20" stroke="#c8c8c8" stroke-opacity="0.6" stroke-width="0.55" stroke-dasharray="1.6 1.1"/>
<line x1="614.50" y1="33.60" x2="614.50" y2="217.20" stroke="#c8c8c8" stroke-opacity="0.6" stroke-width="0.55" stroke-dasharray="1.6 1.1"/>
<line x1="639.90" y1="33.60" x2="639.90" y2="217.20" stroke="#c8c8c8" stroke-opacity="0.6" stroke-width="0.55" stroke-dasharray="1.6 1.1"/>
<line x1="665.30" y1="33.60" x2="665.30" y2="217.20" stroke="#c8c8c8" stroke-opacity="0.6" stroke-width="0.55" stroke-dasharray="1.6 1.1"/>
<line x1="487.50" y1="45.85" x2="683.50" y2="45.85" stroke="#c8c8c8" stroke-opacity="0.6" stroke-width="0.55" stroke-dasharray="1.6 1.1"/>
<line x1="487.50" y1="60.23" x2="683.50" y2="60.23" stroke="#c8c8c8" stroke-opacity="0.6" stroke-width="0.55" stroke-dasharray="1.6 1.1"/>
<line x1="487.50" y1="74.61" x2="683.50" y2="74.61" stroke="#c8c8c8" stroke-opacity="0.6" stroke-width="0.55" stroke-dasharray="1.6 1.1"/>
<line x1="487.50" y1="88.99" x2="683.50" y2="88.99" stroke="#c8c8c8" stroke-opacity="0.6" stroke-width="0.55" stroke-dasharray="1.6 1.1"/>
<line x1="487.50" y1="103.37" x2="683.50" y2="103.37" stroke="#c8c8c8" stroke-opacity="0.6" stroke-width="0.55" stroke-dasharray="1.6 1.1"/>
<line x1="487.50" y1="117.75" x2="683.50" y2="117.75" stroke="#c8c8c8" stroke-opacity="0.6" stroke-width="0.55" stroke-dasharray="1.6 1.1"/>
<line x1="487.50" y1="132.13" x2="683.50" y2="132.13" stroke="#c8c8c8" stroke-opacity="0.6" stroke-width="0.55" stroke-dasharray="1.6 1.1"/>
<line x1="487.50" y1="146.51" x2="683.50" y2="146.51" stroke="#c8c8c8" stroke-opacity="0.6" stroke-width="0.55" stroke-dasharray="1.6 1.1"/>
<line x1="487.50" y1="160.89" x2="683.50" y2="160.89" stroke="#c8c8c8" stroke-opacity="0.6" stroke-width="0.55" stroke-dasharray="1.6 1.1"/>
<line x1="487.50" y1="175.27" x2="683.50" y2="175.27" stroke="#c8c8c8" stroke-opacity="0.6" stroke-width="0.55" stroke-dasharray="1.6 1.1"/>
<line x1="487.50" y1="189.65" x2="683.50" y2="189.65" stroke="#c8c8c8" stroke-opacity="0.6" stroke-width="0.55" stroke-dasharray="1.6 1.1"/>
<line x1="487.50" y1="204.03" x2="683.50" y2="204.03" stroke="#c8c8c8" stroke-opacity="0.6" stroke-width="0.55" stroke-dasharray="1.6 1.1"/>
<line x1="487.50" y1="33.60" x2="487.50" y2="217.60" stroke="#5a5a5a" stroke-width="0.85"/>
<line x1="487.10" y1="217.20" x2="683.50" y2="217.20" stroke="#5a5a5a" stroke-width="0.85"/>
<line x1="487.50" y1="45.85" x2="489.50" y2="45.85" stroke="#5a5a5a" stroke-width="0.7"/>
<text x="441.36" y="48.85" font-size="7.65" textLength="44.83" lengthAdjust="spacingAndGlyphs" fill="#1a1a1a" >IL-6 (plasma)</text>
<line x1="487.50" y1="60.23" x2="489.50" y2="60.23" stroke="#5a5a5a" stroke-width="0.7"/>
<text x="406.55" y="63.23" font-size="7.65" textLength="79.12" lengthAdjust="spacingAndGlyphs" fill="#1a1a1a" >IFN-α response ssGSEA</text>
<line x1="487.50" y1="74.61" x2="489.50" y2="74.61" stroke="#5a5a5a" stroke-width="0.7"/>
<text x="440.24" y="77.61" font-size="7.65" textLength="45.95" lengthAdjust="spacingAndGlyphs" fill="#1a1a1a" >CRP (plasma)</text>
<line x1="487.50" y1="88.99" x2="489.50" y2="88.99" stroke="#5a5a5a" stroke-width="0.7"/>
<text x="429.68" y="91.99" font-size="7.65" textLength="56.08" lengthAdjust="spacingAndGlyphs" fill="#1a1a1a" >CD8 T cell count</text>
<line x1="487.50" y1="103.37" x2="489.50" y2="103.37" stroke="#5a5a5a" stroke-width="0.7"/>
<text x="420.84" y="106.37" font-size="7.65" textLength="64.82" lengthAdjust="spacingAndGlyphs" fill="#1a1a1a" >AP-1/MAPK ssGSEA</text>
<line x1="487.50" y1="117.75" x2="489.50" y2="117.75" stroke="#5a5a5a" stroke-width="0.7"/>
<text x="417.53" y="120.75" font-size="7.65" textLength="68.13" lengthAdjust="spacingAndGlyphs" fill="#1a1a1a" >TNFα/NF-κB ssGSEA</text>
<line x1="487.50" y1="132.13" x2="489.50" y2="132.13" stroke="#5a5a5a" stroke-width="0.7"/>
<text x="409.70" y="135.13" font-size="7.65" textLength="76.48" lengthAdjust="spacingAndGlyphs" fill="#1a1a1a" >Lymphocyte % (blood)</text>
<line x1="487.50" y1="146.51" x2="489.50" y2="146.51" stroke="#5a5a5a" stroke-width="0.7"/>
<text x="407.01" y="149.51" font-size="7.65" textLength="78.66" lengthAdjust="spacingAndGlyphs" fill="#1a1a1a" >IFN-γ response ssGSEA</text>
<line x1="487.50" y1="160.89" x2="489.50" y2="160.89" stroke="#5a5a5a" stroke-width="0.7"/>
<text x="415.49" y="163.89" font-size="7.65" textLength="70.70" lengthAdjust="spacingAndGlyphs" fill="#1a1a1a" >Neutrophil % (blood)</text>
<line x1="487.50" y1="175.27" x2="489.50" y2="175.27" stroke="#5a5a5a" stroke-width="0.7"/>
<text x="432.22" y="178.27" font-size="7.65" textLength="53.97" lengthAdjust="spacingAndGlyphs" fill="#1a1a1a" >IL-1RA (plasma)</text>
<line x1="487.50" y1="189.65" x2="489.50" y2="189.65" stroke="#5a5a5a" stroke-width="0.7"/>
<text x="388.63" y="192.65" font-size="7.65" textLength="97.03" lengthAdjust="spacingAndGlyphs" fill="#1a1a1a" >Platelet/Coagulation ssGSEA</text>
<line x1="487.50" y1="204.03" x2="489.50" y2="204.03" stroke="#5a5a5a" stroke-width="0.7"/>
<text x="408.73" y="207.03" font-size="7.65" textLength="77.24" lengthAdjust="spacingAndGlyphs" fill="#1a1a1a" >CD4 T activation score</text>
<line x1="487.50" y1="217.20" x2="487.50" y2="215.20" stroke="#5a5a5a" stroke-width="0.7"/>
<text x="480.27" y="224.00" font-size="7.28" textLength="14.47" lengthAdjust="spacingAndGlyphs" fill="#1a1a1a" >0.00</text>
<line x1="512.90" y1="217.20" x2="512.90" y2="215.20" stroke="#5a5a5a" stroke-width="0.7"/>
<text x="505.77" y="224.00" font-size="7.28" textLength="14.47" lengthAdjust="spacingAndGlyphs" fill="#1a1a1a" >0.02</text>
<line x1="538.30" y1="217.20" x2="538.30" y2="215.20" stroke="#5a5a5a" stroke-width="0.7"/>
<text x="531.03" y="224.00" font-size="7.28" textLength="14.47" lengthAdjust="spacingAndGlyphs" fill="#1a1a1a" >0.04</text>
<line x1="563.70" y1="217.20" x2="563.70" y2="215.20" stroke="#5a5a5a" stroke-width="0.7"/>
<text x="556.45" y="224.00" font-size="7.28" textLength="14.47" lengthAdjust="spacingAndGlyphs" fill="#1a1a1a" >0.06</text>
<line x1="589.10" y1="217.20" x2="589.10" y2="215.20" stroke="#5a5a5a" stroke-width="0.7"/>
<text x="581.87" y="224.00" font-size="7.28" textLength="14.47" lengthAdjust="spacingAndGlyphs" fill="#1a1a1a" >0.08</text>
<line x1="614.50" y1="217.20" x2="614.50" y2="215.20" stroke="#5a5a5a" stroke-width="0.7"/>
<text x="607.27" y="224.00" font-size="7.28" textLength="14.47" lengthAdjust="spacingAndGlyphs" fill="#1a1a1a" >0.10</text>
<line x1="639.90" y1="217.20" x2="639.90" y2="215.20" stroke="#5a5a5a" stroke-width="0.7"/>
<text x="632.77" y="224.00" font-size="7.28" textLength="14.47" lengthAdjust="spacingAndGlyphs" fill="#1a1a1a" >0.12</text>
<line x1="665.30" y1="217.20" x2="665.30" y2="215.20" stroke="#5a5a5a" stroke-width="0.7"/>
<text x="658.03" y="224.00" font-size="7.28" textLength="14.47" lengthAdjust="spacingAndGlyphs" fill="#1a1a1a" >0.14</text>
<text x="504.43" y="233.40" font-size="7.64" textLength="162.70" lengthAdjust="spacingAndGlyphs" fill="#1a1a1a" >Relative importance (mean |SHAP|, normalized)</text>
</svg></body></html>
